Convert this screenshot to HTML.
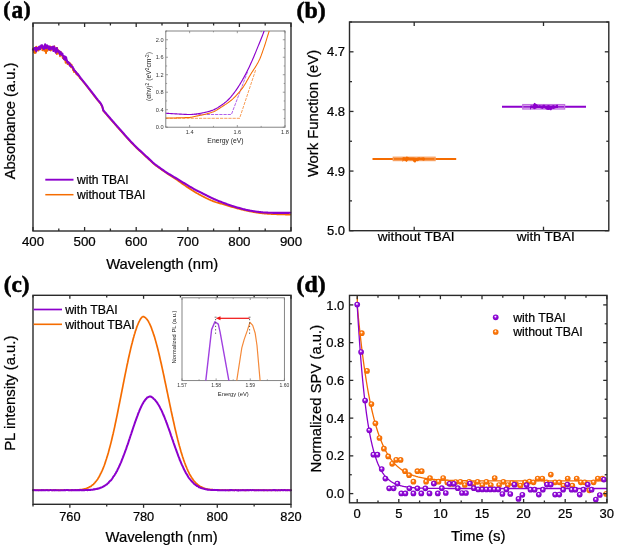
<!DOCTYPE html>
<html><head><meta charset="utf-8"><style>
html,body{margin:0;padding:0;background:#fff;}
svg{display:block;}
svg{will-change:transform;}

</style></head><body>
<svg width="617" height="549" viewBox="0 0 617 549">
<rect width="617" height="549" fill="#fff"/>
<path d="M33.00,48.58 L33.47,49.62 L33.93,52.24 L34.40,49.17 L34.86,53.13 L35.33,47.65 L35.79,52.95 L36.26,46.50 L36.73,47.43 L37.19,48.55 L37.66,50.35 L38.12,48.01 L38.59,50.57 L39.06,48.39 L39.52,48.48 L39.99,48.84 L40.45,48.24 L40.92,48.11 L41.38,46.33 L41.85,46.85 L42.32,50.37 L42.78,49.57 L43.25,49.15 L43.71,48.59 L44.18,50.90 L44.64,50.41 L45.11,48.28 L45.58,51.55 L46.04,53.30 L46.51,50.16 L46.97,47.29 L47.44,50.93 L47.90,48.67 L48.37,49.46 L48.84,48.06 L49.30,48.63 L49.77,50.25 L50.23,46.40 L50.70,50.65 L51.17,47.10 L51.63,49.85 L52.10,46.74 L52.56,46.99 L53.03,49.36 L53.49,49.37 L53.96,48.61 L54.43,46.22 L54.89,49.17 L55.36,52.10 L55.82,49.15 L56.29,49.59 L56.75,54.12 L57.22,47.74 L57.69,51.64 L58.15,53.67 L58.62,50.37 L59.08,52.00 L59.55,51.69 L60.01,56.38 L60.48,53.90 L60.95,52.04 L61.41,54.70 L61.88,54.51 L62.34,56.56 L62.81,58.14 L63.28,58.23 L63.74,58.90 L64.21,57.63 L64.67,59.77 L65.14,59.28 L65.60,62.82 L66.07,58.71 L66.54,60.89 L67.00,60.78 L67.47,64.23 L67.93,62.11 L68.40,63.17 L68.86,64.37 L69.33,62.77 L69.80,63.90 L70.26,63.41 L70.73,66.84 L71.19,67.37 L71.66,64.68 L72.12,67.26 L72.59,68.14 L73.06,70.41 L73.52,69.02 L73.99,72.10 L74.45,70.25 L74.92,71.60 L75.39,72.14 L75.85,72.80 L76.32,74.13 L76.78,73.06 L77.25,74.98 L77.71,74.06 L78.18,75.65 L78.65,76.31 L79.11,76.50 L79.58,77.68 L80.04,78.31 L80.51,78.42 L80.97,78.93 L81.44,79.67 L81.91,80.19 L82.37,80.76 L82.84,81.33 L83.30,81.91 L83.77,82.49 L84.23,83.07 L84.70,83.65 L85.17,84.24 L85.63,84.82 L86.10,85.41 L86.56,86.00 L87.03,86.59 L87.50,87.19 L87.96,87.78 L88.43,88.38 L88.89,88.98 L89.36,89.58 L89.82,90.18 L90.29,90.78 L90.76,91.39 L91.22,91.99 L91.69,92.60 L92.15,93.20 L92.62,93.81 L93.08,94.41 L93.55,95.02 L94.02,95.62 L94.48,96.23 L94.95,96.84 L95.41,97.44 L95.88,98.05 L96.34,98.65 L96.81,99.25 L97.28,99.85 L97.74,100.42 L98.21,100.96 L98.67,101.50 L99.14,102.04 L99.61,102.61 L100.07,103.20 L100.54,103.84 L101.00,104.54 L101.47,105.32 L101.93,106.30 L102.40,107.40 L103.30,110.90 L104.08,111.81 L104.86,112.72 L105.65,113.63 L106.43,114.53 L107.21,115.44 L107.99,116.34 L108.78,117.24 L109.56,118.14 L110.34,119.04 L111.12,119.94 L111.91,120.84 L112.69,121.73 L113.47,122.63 L114.25,123.52 L115.04,124.42 L115.82,125.31 L116.60,126.20 L117.38,127.09 L118.17,127.97 L118.95,128.86 L119.73,129.74 L120.51,130.62 L121.30,131.49 L122.08,132.38 L122.86,133.26 L123.64,134.15 L124.43,135.03 L125.21,135.92 L125.99,136.80 L126.77,137.68 L127.56,138.55 L128.34,139.42 L129.12,140.28 L129.90,141.13 L130.68,141.97 L131.47,142.80 L132.25,143.62 L133.03,144.43 L133.81,145.22 L134.60,146.00 L135.38,146.77 L136.16,147.54 L136.94,148.29 L137.73,149.04 L138.51,149.77 L139.29,150.51 L140.07,151.24 L140.86,151.96 L141.64,152.68 L142.42,153.40 L143.20,154.12 L143.99,154.84 L144.77,155.56 L145.55,156.28 L146.33,157.01 L147.12,157.74 L147.90,158.48 L148.68,159.23 L149.46,159.97 L150.25,160.70 L151.03,161.43 L151.81,162.15 L152.59,162.86 L153.38,163.54 L154.16,164.21 L154.94,164.85 L155.72,165.46 L156.51,166.05 L157.29,166.61 L158.07,167.17 L158.85,167.72 L159.63,168.28 L160.42,168.84 L161.20,169.40 L161.98,169.95 L162.76,170.50 L163.55,171.04 L164.33,171.59 L165.11,172.12 L165.89,172.66 L166.68,173.19 L167.46,173.71 L168.24,174.22 L169.02,174.73 L169.81,175.23 L170.59,175.73 L171.37,176.23 L172.15,176.73 L172.94,177.24 L173.72,177.75 L174.50,178.27 L175.28,178.79 L176.07,179.33 L176.85,179.87 L177.63,180.42 L178.41,180.97 L179.20,181.53 L179.98,182.09 L180.76,182.65 L181.54,183.20 L182.33,183.76 L183.11,184.31 L183.89,184.85 L184.67,185.38 L185.45,185.91 L186.24,186.44 L187.02,186.97 L187.80,187.50 L188.58,188.02 L189.37,188.55 L190.15,189.06 L190.93,189.57 L191.71,190.08 L192.50,190.57 L193.28,191.06 L194.06,191.54 L194.84,192.00 L195.63,192.46 L196.41,192.92 L197.19,193.37 L197.97,193.81 L198.76,194.24 L199.54,194.67 L200.32,195.10 L201.10,195.51 L201.89,195.92 L202.67,196.33 L203.45,196.73 L204.23,197.12 L205.02,197.50 L205.80,197.89 L206.58,198.28 L207.36,198.66 L208.15,199.04 L208.93,199.41 L209.71,199.77 L210.49,200.12 L211.27,200.46 L212.06,200.79 L212.84,201.10 L213.62,201.40 L214.40,201.68 L215.19,201.94 L215.97,202.20 L216.75,202.44 L217.53,202.67 L218.32,202.90 L219.10,203.12 L219.88,203.34 L220.66,203.56 L221.45,203.78 L222.23,204.00 L223.01,204.23 L223.79,204.46 L224.58,204.69 L225.36,204.93 L226.14,205.17 L226.92,205.41 L227.71,205.65 L228.49,205.90 L229.27,206.14 L230.05,206.37 L230.84,206.61 L231.62,206.84 L232.40,207.07 L233.18,207.30 L233.97,207.52 L234.75,207.73 L235.53,207.94 L236.31,208.15 L237.09,208.36 L237.88,208.57 L238.66,208.77 L239.44,208.98 L240.22,209.18 L241.01,209.38 L241.79,209.58 L242.57,209.77 L243.35,209.97 L244.14,210.15 L244.92,210.34 L245.70,210.52 L246.48,210.69 L247.27,210.86 L248.05,211.02 L248.83,211.18 L249.61,211.33 L250.40,211.47 L251.18,211.62 L251.96,211.76 L252.74,211.90 L253.53,212.04 L254.31,212.18 L255.09,212.31 L255.87,212.44 L256.66,212.57 L257.44,212.69 L258.22,212.81 L259.00,212.93 L259.79,213.04 L260.57,213.15 L261.35,213.24 L262.13,213.34 L262.92,213.42 L263.70,213.50 L264.48,213.57 L265.26,213.64 L266.04,213.70 L266.83,213.76 L267.61,213.81 L268.39,213.87 L269.17,213.92 L269.96,213.97 L270.74,214.02 L271.52,214.06 L272.30,214.10 L273.09,214.14 L273.87,214.18 L274.65,214.21 L275.43,214.24 L276.22,214.27 L277.00,214.30 L277.78,214.33 L278.56,214.35 L279.35,214.38 L280.13,214.40 L280.91,214.42 L281.69,214.45 L282.48,214.47 L283.26,214.49 L284.04,214.51 L284.82,214.52 L285.61,214.54 L286.39,214.56 L287.17,214.57 L287.95,214.58 L288.74,214.59 L289.52,214.60 L290.30,214.60" fill="none" stroke="#f56c00" stroke-width="1.7" stroke-linejoin="round" stroke-linecap="round" />
<path d="M33.00,49.50 L33.47,49.97 L33.93,49.04 L34.40,48.03 L34.86,48.70 L35.33,47.80 L35.79,49.41 L36.26,51.34 L36.73,48.26 L37.19,47.88 L37.66,49.48 L38.12,49.11 L38.59,48.56 L39.06,46.79 L39.52,48.16 L39.99,49.31 L40.45,46.07 L40.92,47.53 L41.38,45.27 L41.85,46.30 L42.32,45.47 L42.78,48.08 L43.25,46.46 L43.71,48.93 L44.18,48.73 L44.64,48.11 L45.11,44.29 L45.58,47.34 L46.04,48.00 L46.51,48.14 L46.97,45.40 L47.44,47.00 L47.90,46.14 L48.37,46.41 L48.84,49.45 L49.30,46.54 L49.77,47.89 L50.23,49.49 L50.70,47.28 L51.17,48.16 L51.63,48.63 L52.10,48.66 L52.56,46.70 L53.03,48.89 L53.49,51.05 L53.96,46.51 L54.43,50.49 L54.89,49.43 L55.36,48.35 L55.82,52.74 L56.29,50.93 L56.75,47.99 L57.22,50.25 L57.69,51.31 L58.15,50.36 L58.62,52.06 L59.08,51.20 L59.55,52.78 L60.01,54.52 L60.48,51.73 L60.95,53.78 L61.41,53.38 L61.88,54.99 L62.34,53.54 L62.81,55.08 L63.28,56.23 L63.74,58.38 L64.21,59.23 L64.67,56.30 L65.14,57.59 L65.60,60.04 L66.07,57.18 L66.54,59.67 L67.00,60.67 L67.47,62.79 L67.93,62.65 L68.40,62.07 L68.86,62.60 L69.33,63.30 L69.80,65.60 L70.26,64.28 L70.73,64.99 L71.19,66.15 L71.66,66.33 L72.12,66.87 L72.59,66.79 L73.06,68.22 L73.52,68.54 L73.99,70.20 L74.45,70.46 L74.92,70.66 L75.39,71.64 L75.85,71.74 L76.32,72.99 L76.78,73.12 L77.25,73.94 L77.71,73.88 L78.18,75.02 L78.65,75.05 L79.11,75.62 L79.58,76.61 L80.04,77.12 L80.51,77.86 L80.97,78.60 L81.44,78.96 L81.91,79.57 L82.37,80.16 L82.84,80.73 L83.30,81.31 L83.77,81.89 L84.23,82.47 L84.70,83.05 L85.17,83.64 L85.63,84.22 L86.10,84.81 L86.56,85.40 L87.03,85.99 L87.50,86.59 L87.96,87.18 L88.43,87.78 L88.89,88.38 L89.36,88.98 L89.82,89.58 L90.29,90.18 L90.76,90.79 L91.22,91.39 L91.69,92.00 L92.15,92.60 L92.62,93.21 L93.08,93.81 L93.55,94.42 L94.02,95.02 L94.48,95.63 L94.95,96.24 L95.41,96.84 L95.88,97.45 L96.34,98.05 L96.81,98.65 L97.28,99.25 L97.74,99.82 L98.21,100.36 L98.67,100.90 L99.14,101.44 L99.61,102.01 L100.07,102.60 L100.54,103.24 L101.00,103.94 L101.47,104.72 L101.93,105.70 L102.40,106.80 L103.30,110.30 L104.08,111.21 L104.86,112.12 L105.65,113.03 L106.43,113.93 L107.21,114.84 L107.99,115.74 L108.78,116.64 L109.56,117.54 L110.34,118.44 L111.12,119.34 L111.91,120.24 L112.69,121.13 L113.47,122.03 L114.25,122.92 L115.04,123.82 L115.82,124.71 L116.60,125.60 L117.38,126.49 L118.17,127.37 L118.95,128.26 L119.73,129.14 L120.51,130.02 L121.30,130.89 L122.08,131.78 L122.86,132.66 L123.64,133.55 L124.43,134.43 L125.21,135.32 L125.99,136.20 L126.77,137.08 L127.56,137.95 L128.34,138.82 L129.12,139.68 L129.90,140.53 L130.68,141.37 L131.47,142.20 L132.25,143.02 L133.03,143.83 L133.81,144.62 L134.60,145.40 L135.38,146.17 L136.16,146.94 L136.94,147.69 L137.73,148.44 L138.51,149.17 L139.29,149.91 L140.07,150.64 L140.86,151.36 L141.64,152.08 L142.42,152.80 L143.20,153.52 L143.99,154.24 L144.77,154.96 L145.55,155.68 L146.33,156.41 L147.12,157.14 L147.90,157.88 L148.68,158.63 L149.46,159.37 L150.25,160.10 L151.03,160.83 L151.81,161.55 L152.59,162.26 L153.38,162.94 L154.16,163.61 L154.94,164.25 L155.72,164.86 L156.51,165.45 L157.29,166.01 L158.07,166.57 L158.85,167.12 L159.63,167.68 L160.42,168.25 L161.20,168.81 L161.98,169.37 L162.76,169.92 L163.55,170.47 L164.33,171.01 L165.11,171.55 L165.89,172.07 L166.68,172.58 L167.46,173.08 L168.24,173.56 L169.02,174.04 L169.81,174.51 L170.59,174.98 L171.37,175.44 L172.15,175.90 L172.94,176.37 L173.72,176.83 L174.50,177.30 L175.28,177.77 L176.07,178.25 L176.85,178.72 L177.63,179.20 L178.41,179.68 L179.20,180.16 L179.98,180.64 L180.76,181.11 L181.54,181.59 L182.33,182.07 L183.11,182.54 L183.89,183.01 L184.67,183.48 L185.45,183.95 L186.24,184.43 L187.02,184.90 L187.80,185.38 L188.58,185.85 L189.37,186.33 L190.15,186.80 L190.93,187.26 L191.71,187.72 L192.50,188.18 L193.28,188.62 L194.06,189.06 L194.84,189.49 L195.63,189.90 L196.41,190.31 L197.19,190.72 L197.97,191.12 L198.76,191.51 L199.54,191.90 L200.32,192.28 L201.10,192.67 L201.89,193.05 L202.67,193.44 L203.45,193.83 L204.23,194.22 L205.02,194.61 L205.80,195.01 L206.58,195.41 L207.36,195.81 L208.15,196.21 L208.93,196.61 L209.71,197.00 L210.49,197.39 L211.27,197.78 L212.06,198.15 L212.84,198.52 L213.62,198.88 L214.40,199.22 L215.19,199.56 L215.97,199.90 L216.75,200.22 L217.53,200.55 L218.32,200.86 L219.10,201.18 L219.88,201.49 L220.66,201.79 L221.45,202.09 L222.23,202.39 L223.01,202.68 L223.79,202.97 L224.58,203.26 L225.36,203.55 L226.14,203.83 L226.92,204.12 L227.71,204.40 L228.49,204.68 L229.27,204.95 L230.05,205.22 L230.84,205.48 L231.62,205.75 L232.40,206.00 L233.18,206.25 L233.97,206.49 L234.75,206.73 L235.53,206.96 L236.31,207.18 L237.09,207.41 L237.88,207.64 L238.66,207.87 L239.44,208.09 L240.22,208.31 L241.01,208.53 L241.79,208.74 L242.57,208.95 L243.35,209.15 L244.14,209.35 L244.92,209.54 L245.70,209.73 L246.48,209.91 L247.27,210.08 L248.05,210.24 L248.83,210.39 L249.61,210.53 L250.40,210.67 L251.18,210.80 L251.96,210.93 L252.74,211.06 L253.53,211.19 L254.31,211.31 L255.09,211.43 L255.87,211.55 L256.66,211.67 L257.44,211.78 L258.22,211.88 L259.00,211.98 L259.79,212.07 L260.57,212.16 L261.35,212.24 L262.13,212.31 L262.92,212.38 L263.70,212.43 L264.48,212.48 L265.26,212.52 L266.04,212.56 L266.83,212.60 L267.61,212.64 L268.39,212.68 L269.17,212.71 L269.96,212.74 L270.74,212.77 L271.52,212.80 L272.30,212.82 L273.09,212.85 L273.87,212.87 L274.65,212.88 L275.43,212.89 L276.22,212.90 L277.00,212.90 L277.78,212.90 L278.56,212.90 L279.35,212.90 L280.13,212.90 L280.91,212.90 L281.69,212.90 L282.48,212.89 L283.26,212.89 L284.04,212.89 L284.82,212.88 L285.61,212.87 L286.39,212.86 L287.17,212.86 L287.95,212.84 L288.74,212.83 L289.52,212.82 L290.30,212.80" fill="none" stroke="#8c00cc" stroke-width="2.1" stroke-linejoin="round" stroke-linecap="round" />
<rect x="33" y="23.0" width="258" height="208.0" fill="none" stroke="#2a2a2a" stroke-width="1.4"/>
<line x1="33.0" y1="231" x2="33.0" y2="227" stroke="#2a2a2a" stroke-width="1.3" />
<line x1="33.0" y1="23.0" x2="33.0" y2="27.0" stroke="#2a2a2a" stroke-width="1.3" />
<line x1="58.8" y1="231" x2="58.8" y2="228.5" stroke="#2a2a2a" stroke-width="1.3" />
<line x1="58.8" y1="23.0" x2="58.8" y2="25.5" stroke="#2a2a2a" stroke-width="1.3" />
<line x1="84.6" y1="231" x2="84.6" y2="227" stroke="#2a2a2a" stroke-width="1.3" />
<line x1="84.6" y1="23.0" x2="84.6" y2="27.0" stroke="#2a2a2a" stroke-width="1.3" />
<line x1="110.4" y1="231" x2="110.4" y2="228.5" stroke="#2a2a2a" stroke-width="1.3" />
<line x1="110.4" y1="23.0" x2="110.4" y2="25.5" stroke="#2a2a2a" stroke-width="1.3" />
<line x1="136.2" y1="231" x2="136.2" y2="227" stroke="#2a2a2a" stroke-width="1.3" />
<line x1="136.2" y1="23.0" x2="136.2" y2="27.0" stroke="#2a2a2a" stroke-width="1.3" />
<line x1="162.0" y1="231" x2="162.0" y2="228.5" stroke="#2a2a2a" stroke-width="1.3" />
<line x1="162.0" y1="23.0" x2="162.0" y2="25.5" stroke="#2a2a2a" stroke-width="1.3" />
<line x1="187.8" y1="231" x2="187.8" y2="227" stroke="#2a2a2a" stroke-width="1.3" />
<line x1="187.8" y1="23.0" x2="187.8" y2="27.0" stroke="#2a2a2a" stroke-width="1.3" />
<line x1="213.6" y1="231" x2="213.6" y2="228.5" stroke="#2a2a2a" stroke-width="1.3" />
<line x1="213.6" y1="23.0" x2="213.6" y2="25.5" stroke="#2a2a2a" stroke-width="1.3" />
<line x1="239.4" y1="231" x2="239.4" y2="227" stroke="#2a2a2a" stroke-width="1.3" />
<line x1="239.4" y1="23.0" x2="239.4" y2="27.0" stroke="#2a2a2a" stroke-width="1.3" />
<line x1="265.2" y1="231" x2="265.2" y2="228.5" stroke="#2a2a2a" stroke-width="1.3" />
<line x1="265.2" y1="23.0" x2="265.2" y2="25.5" stroke="#2a2a2a" stroke-width="1.3" />
<line x1="291.0" y1="231" x2="291.0" y2="227" stroke="#2a2a2a" stroke-width="1.3" />
<line x1="291.0" y1="23.0" x2="291.0" y2="27.0" stroke="#2a2a2a" stroke-width="1.3" />
<text x="33.0" y="245.8" font-family="Liberation Sans" font-size="13.3" font-weight="normal" text-anchor="middle" fill="#000" stroke="#000" stroke-width="0.22">400</text>
<text x="84.6" y="245.8" font-family="Liberation Sans" font-size="13.3" font-weight="normal" text-anchor="middle" fill="#000" stroke="#000" stroke-width="0.22">500</text>
<text x="136.2" y="245.8" font-family="Liberation Sans" font-size="13.3" font-weight="normal" text-anchor="middle" fill="#000" stroke="#000" stroke-width="0.22">600</text>
<text x="187.8" y="245.8" font-family="Liberation Sans" font-size="13.3" font-weight="normal" text-anchor="middle" fill="#000" stroke="#000" stroke-width="0.22">700</text>
<text x="239.4" y="245.8" font-family="Liberation Sans" font-size="13.3" font-weight="normal" text-anchor="middle" fill="#000" stroke="#000" stroke-width="0.22">800</text>
<text x="291.0" y="245.8" font-family="Liberation Sans" font-size="13.3" font-weight="normal" text-anchor="middle" fill="#000" stroke="#000" stroke-width="0.22">900</text>
<text x="162.2" y="269" font-family="Liberation Sans" font-size="14.8" font-weight="normal" text-anchor="middle" fill="#000" stroke="#000" stroke-width="0.22">Wavelength (nm)</text>
<text x="15.2" y="121" font-family="Liberation Sans" font-size="14.7" font-weight="normal" text-anchor="middle" fill="#000" transform="rotate(-90 15.2 121)" stroke="#000" stroke-width="0.22">Absorbance (a.u.)</text>
<text x="3.2" y="15.8" font-family="Liberation Serif" font-size="21.5" font-weight="bold" text-anchor="start" fill="#000" stroke="#000" stroke-width="0.55">(</text>
<text x="0" y="0" font-family="Liberation Serif" font-size="24" font-weight="bold" fill="#000" stroke="#000" stroke-width="0.55" transform="translate(11.6 17.9) scale(0.97 1.03)">a</text>
<text x="23.4" y="15.8" font-family="Liberation Serif" font-size="21.5" font-weight="bold" text-anchor="start" fill="#000" stroke="#000" stroke-width="0.55">)</text>
<line x1="45.3" y1="179.7" x2="73.5" y2="179.7" stroke="#8c00cc" stroke-width="1.9" />
<line x1="45.3" y1="194.7" x2="73.5" y2="194.7" stroke="#f56c00" stroke-width="1.5" />
<text x="77" y="183.7" font-family="Liberation Sans" font-size="12.1" font-weight="normal" text-anchor="start" fill="#000" stroke="#000" stroke-width="0.22">with TBAI</text>
<text x="77" y="198.5" font-family="Liberation Sans" font-size="12.1" font-weight="normal" text-anchor="start" fill="#000" stroke="#000" stroke-width="0.22">without TBAI</text>
<rect x="165.8" y="31" width="119.19999999999999" height="96.2" fill="#fff" stroke="#777" stroke-width="0.9"/>
<clipPath id="ca"><rect x="165.8" y="31" width="119.19999999999999" height="96.2"/></clipPath>
<g clip-path="url(#ca)">
<path d="M165.80,118.30 L239.60,118.30 L255.80,69.50" fill="none" stroke="#f7954a" stroke-width="0.9" stroke-linejoin="round" stroke-linecap="round" stroke-dasharray="2.4,1.8"/>
<path d="M190.30,114.50 L231.40,114.50 L247.80,71.20" fill="none" stroke="#a850e8" stroke-width="0.9" stroke-linejoin="round" stroke-linecap="round" stroke-dasharray="2.4,1.8"/>
<path d="M165.80,118.00 L166.33,118.00 L166.86,118.00 L167.39,118.00 L167.92,118.00 L168.45,117.99 L168.98,117.99 L169.51,117.99 L170.04,117.98 L170.57,117.98 L171.10,117.97 L171.63,117.97 L172.16,117.96 L172.69,117.96 L173.22,117.95 L173.74,117.94 L174.27,117.93 L174.80,117.92 L175.33,117.92 L175.86,117.91 L176.39,117.89 L176.92,117.88 L177.45,117.87 L177.98,117.86 L178.51,117.85 L179.04,117.83 L179.57,117.82 L180.10,117.80 L180.63,117.79 L181.16,117.77 L181.69,117.75 L182.22,117.74 L182.75,117.72 L183.28,117.70 L183.81,117.68 L184.34,117.66 L184.87,117.64 L185.40,117.62 L185.93,117.60 L186.46,117.57 L186.99,117.55 L187.52,117.52 L188.05,117.50 L188.57,117.47 L189.10,117.45 L189.63,117.42 L190.16,117.39 L190.69,117.34 L191.22,117.26 L191.75,117.16 L192.28,117.04 L192.81,116.92 L193.34,116.79 L193.87,116.66 L194.40,116.53 L194.93,116.41 L195.46,116.31 L195.99,116.20 L196.52,116.09 L197.05,115.99 L197.58,115.89 L198.11,115.78 L198.64,115.68 L199.17,115.57 L199.70,115.47 L200.23,115.36 L200.76,115.25 L201.29,115.14 L201.82,115.03 L202.35,114.92 L202.88,114.80 L203.41,114.68 L203.93,114.56 L204.46,114.43 L204.99,114.30 L205.52,114.17 L206.05,114.03 L206.58,113.90 L207.11,113.76 L207.64,113.61 L208.17,113.47 L208.70,113.32 L209.23,113.16 L209.76,113.00 L210.29,112.84 L210.82,112.66 L211.35,112.49 L211.88,112.30 L212.41,112.11 L212.94,111.90 L213.47,111.69 L214.00,111.46 L214.53,111.21 L215.06,110.95 L215.59,110.68 L216.12,110.39 L216.65,110.08 L217.18,109.77 L217.71,109.45 L218.24,109.12 L218.76,108.79 L219.29,108.45 L219.82,108.11 L220.35,107.76 L220.88,107.42 L221.41,107.07 L221.94,106.73 L222.47,106.39 L223.00,106.05 L223.53,105.71 L224.06,105.37 L224.59,105.03 L225.12,104.68 L225.65,104.34 L226.18,103.98 L226.71,103.63 L227.24,103.26 L227.77,102.90 L228.30,102.52 L228.83,102.14 L229.36,101.75 L229.89,101.35 L230.42,100.94 L230.95,100.52 L231.48,100.09 L232.01,99.65 L232.54,99.20 L233.07,98.72 L233.59,98.22 L234.12,97.70 L234.65,97.16 L235.18,96.61 L235.71,96.05 L236.24,95.47 L236.77,94.88 L237.30,94.29 L237.83,93.69 L238.36,93.09 L238.89,92.48 L239.42,91.86 L239.95,91.23 L240.48,90.59 L241.01,89.93 L241.54,89.25 L242.07,88.56 L242.60,87.84 L243.13,87.10 L243.66,86.33 L244.19,85.52 L244.72,84.68 L245.25,83.80 L245.78,82.90 L246.31,81.99 L246.84,81.05 L247.37,80.11 L247.90,79.16 L248.43,78.22 L248.95,77.28 L249.48,76.34 L250.01,75.43 L250.54,74.53 L251.07,73.65 L251.60,72.81 L252.13,71.98 L252.66,71.16 L253.19,70.36 L253.72,69.55 L254.25,68.75 L254.78,67.94 L255.31,67.12 L255.84,66.28 L256.37,65.41 L256.90,64.52 L257.43,63.60 L257.96,62.64 L258.49,61.63 L259.02,60.58 L259.55,59.47 L260.08,58.26 L260.61,56.97 L261.14,55.60 L261.67,54.17 L262.20,52.70 L262.73,51.19 L263.26,49.66 L263.78,48.12 L264.31,46.58 L264.84,44.98 L265.37,43.33 L265.90,41.64 L266.43,39.93 L266.96,38.20 L267.49,36.47 L268.02,34.74 L268.55,33.04 L269.08,31.38 L269.61,29.75 L270.14,28.15 L270.67,26.57 L271.20,25.00" fill="none" stroke="#f56c00" stroke-width="1.05" stroke-linejoin="round" stroke-linecap="round" />
<path d="M165.80,113.20 L166.30,113.24 L166.81,113.28 L167.31,113.32 L167.81,113.35 L168.32,113.39 L168.82,113.43 L169.32,113.46 L169.83,113.50 L170.33,113.53 L170.84,113.57 L171.34,113.60 L171.84,113.64 L172.35,113.67 L172.85,113.70 L173.35,113.73 L173.86,113.77 L174.36,113.80 L174.86,113.83 L175.37,113.86 L175.87,113.89 L176.37,113.91 L176.88,113.94 L177.38,113.97 L177.88,113.99 L178.39,114.02 L178.89,114.05 L179.39,114.07 L179.90,114.10 L180.40,114.13 L180.91,114.16 L181.41,114.19 L181.91,114.22 L182.42,114.24 L182.92,114.27 L183.42,114.30 L183.93,114.32 L184.43,114.35 L184.93,114.37 L185.44,114.39 L185.94,114.41 L186.44,114.43 L186.95,114.45 L187.45,114.46 L187.95,114.48 L188.46,114.49 L188.96,114.49 L189.47,114.50 L189.97,114.50 L190.47,114.49 L190.98,114.48 L191.48,114.45 L191.98,114.41 L192.49,114.37 L192.99,114.32 L193.49,114.26 L194.00,114.21 L194.50,114.15 L195.00,114.10 L195.51,114.04 L196.01,113.99 L196.51,113.92 L197.02,113.86 L197.52,113.79 L198.03,113.71 L198.53,113.63 L199.03,113.55 L199.54,113.47 L200.04,113.38 L200.54,113.29 L201.05,113.20 L201.55,113.11 L202.05,113.01 L202.56,112.91 L203.06,112.81 L203.56,112.71 L204.07,112.60 L204.57,112.49 L205.07,112.38 L205.58,112.27 L206.08,112.16 L206.58,112.04 L207.09,111.92 L207.59,111.79 L208.10,111.66 L208.60,111.52 L209.10,111.38 L209.61,111.23 L210.11,111.08 L210.61,110.92 L211.12,110.75 L211.62,110.58 L212.12,110.40 L212.63,110.22 L213.13,110.03 L213.63,109.82 L214.14,109.61 L214.64,109.37 L215.14,109.12 L215.65,108.86 L216.15,108.59 L216.66,108.31 L217.16,108.01 L217.66,107.70 L218.17,107.39 L218.67,107.07 L219.17,106.74 L219.68,106.40 L220.18,106.06 L220.68,105.72 L221.19,105.37 L221.69,105.02 L222.19,104.67 L222.70,104.32 L223.20,103.96 L223.70,103.59 L224.21,103.21 L224.71,102.81 L225.22,102.41 L225.72,102.00 L226.22,101.57 L226.73,101.14 L227.23,100.69 L227.73,100.23 L228.24,99.75 L228.74,99.26 L229.24,98.75 L229.75,98.21 L230.25,97.65 L230.75,97.07 L231.26,96.48 L231.76,95.86 L232.26,95.23 L232.77,94.60 L233.27,93.95 L233.77,93.29 L234.28,92.63 L234.78,91.96 L235.29,91.27 L235.79,90.56 L236.29,89.85 L236.80,89.11 L237.30,88.37 L237.80,87.61 L238.31,86.84 L238.81,86.05 L239.31,85.26 L239.82,84.45 L240.32,83.63 L240.82,82.79 L241.33,81.94 L241.83,81.08 L242.33,80.20 L242.84,79.31 L243.34,78.40 L243.85,77.49 L244.35,76.56 L244.85,75.62 L245.36,74.67 L245.86,73.71 L246.36,72.74 L246.87,71.77 L247.37,70.77 L247.87,69.76 L248.38,68.73 L248.88,67.69 L249.38,66.63 L249.89,65.55 L250.39,64.46 L250.89,63.36 L251.40,62.25 L251.90,61.12 L252.41,59.99 L252.91,58.84 L253.41,57.67 L253.92,56.49 L254.42,55.29 L254.92,54.07 L255.43,52.85 L255.93,51.62 L256.43,50.38 L256.94,49.13 L257.44,47.89 L257.94,46.64 L258.45,45.40 L258.95,44.17 L259.45,42.94 L259.96,41.72 L260.46,40.49 L260.96,39.25 L261.47,37.99 L261.97,36.72 L262.48,35.42 L262.98,34.09 L263.48,32.72 L263.99,31.31 L264.49,29.85 L264.99,28.29 L265.50,26.66 L266.00,25.00" fill="none" stroke="#8c00cc" stroke-width="1.15" stroke-linejoin="round" stroke-linecap="round" />
</g>
<line x1="165.8" y1="127.2" x2="168.0" y2="127.2" stroke="#777" stroke-width="0.7" />
<line x1="285.0" y1="127.2" x2="282.8" y2="127.2" stroke="#777" stroke-width="0.7" />
<line x1="165.8" y1="118.45454545454545" x2="167.10000000000002" y2="118.45454545454545" stroke="#777" stroke-width="0.7" />
<line x1="285.0" y1="118.45454545454545" x2="283.7" y2="118.45454545454545" stroke="#777" stroke-width="0.7" />
<line x1="165.8" y1="109.70909090909092" x2="168.0" y2="109.70909090909092" stroke="#777" stroke-width="0.7" />
<line x1="285.0" y1="109.70909090909092" x2="282.8" y2="109.70909090909092" stroke="#777" stroke-width="0.7" />
<line x1="165.8" y1="100.96363636363637" x2="167.10000000000002" y2="100.96363636363637" stroke="#777" stroke-width="0.7" />
<line x1="285.0" y1="100.96363636363637" x2="283.7" y2="100.96363636363637" stroke="#777" stroke-width="0.7" />
<line x1="165.8" y1="92.21818181818182" x2="168.0" y2="92.21818181818182" stroke="#777" stroke-width="0.7" />
<line x1="285.0" y1="92.21818181818182" x2="282.8" y2="92.21818181818182" stroke="#777" stroke-width="0.7" />
<line x1="165.8" y1="83.47272727272727" x2="167.10000000000002" y2="83.47272727272727" stroke="#777" stroke-width="0.7" />
<line x1="285.0" y1="83.47272727272727" x2="283.7" y2="83.47272727272727" stroke="#777" stroke-width="0.7" />
<line x1="165.8" y1="74.72727272727272" x2="168.0" y2="74.72727272727272" stroke="#777" stroke-width="0.7" />
<line x1="285.0" y1="74.72727272727272" x2="282.8" y2="74.72727272727272" stroke="#777" stroke-width="0.7" />
<line x1="165.8" y1="65.98181818181818" x2="167.10000000000002" y2="65.98181818181818" stroke="#777" stroke-width="0.7" />
<line x1="285.0" y1="65.98181818181818" x2="283.7" y2="65.98181818181818" stroke="#777" stroke-width="0.7" />
<line x1="165.8" y1="57.236363636363635" x2="168.0" y2="57.236363636363635" stroke="#777" stroke-width="0.7" />
<line x1="285.0" y1="57.236363636363635" x2="282.8" y2="57.236363636363635" stroke="#777" stroke-width="0.7" />
<line x1="165.8" y1="48.4909090909091" x2="167.10000000000002" y2="48.4909090909091" stroke="#777" stroke-width="0.7" />
<line x1="285.0" y1="48.4909090909091" x2="283.7" y2="48.4909090909091" stroke="#777" stroke-width="0.7" />
<line x1="165.8" y1="39.74545454545455" x2="168.0" y2="39.74545454545455" stroke="#777" stroke-width="0.7" />
<line x1="285.0" y1="39.74545454545455" x2="282.8" y2="39.74545454545455" stroke="#777" stroke-width="0.7" />
<line x1="165.8" y1="31.0" x2="167.10000000000002" y2="31.0" stroke="#777" stroke-width="0.7" />
<line x1="285.0" y1="31.0" x2="283.7" y2="31.0" stroke="#777" stroke-width="0.7" />
<text x="163.5" y="129.2" font-family="Liberation Sans" font-size="5.6" font-weight="normal" text-anchor="end" fill="#333" >0.0</text>
<text x="163.5" y="111.70909090909092" font-family="Liberation Sans" font-size="5.6" font-weight="normal" text-anchor="end" fill="#333" >0.4</text>
<text x="163.5" y="94.21818181818182" font-family="Liberation Sans" font-size="5.6" font-weight="normal" text-anchor="end" fill="#333" >0.8</text>
<text x="163.5" y="76.72727272727272" font-family="Liberation Sans" font-size="5.6" font-weight="normal" text-anchor="end" fill="#333" >1.2</text>
<text x="163.5" y="59.236363636363635" font-family="Liberation Sans" font-size="5.6" font-weight="normal" text-anchor="end" fill="#333" >1.6</text>
<text x="163.5" y="41.74545454545455" font-family="Liberation Sans" font-size="5.6" font-weight="normal" text-anchor="end" fill="#333" >2.0</text>
<line x1="165.8" y1="127.2" x2="165.8" y2="125.9" stroke="#777" stroke-width="0.7" />
<line x1="165.8" y1="31" x2="165.8" y2="32.3" stroke="#777" stroke-width="0.7" />
<line x1="189.64000000000004" y1="127.2" x2="189.64000000000004" y2="125.0" stroke="#777" stroke-width="0.7" />
<line x1="189.64000000000004" y1="31" x2="189.64000000000004" y2="33.2" stroke="#777" stroke-width="0.7" />
<line x1="213.48" y1="127.2" x2="213.48" y2="125.9" stroke="#777" stroke-width="0.7" />
<line x1="213.48" y1="31" x2="213.48" y2="32.3" stroke="#777" stroke-width="0.7" />
<line x1="237.32000000000002" y1="127.2" x2="237.32000000000002" y2="125.0" stroke="#777" stroke-width="0.7" />
<line x1="237.32000000000002" y1="31" x2="237.32000000000002" y2="33.2" stroke="#777" stroke-width="0.7" />
<line x1="261.16" y1="127.2" x2="261.16" y2="125.9" stroke="#777" stroke-width="0.7" />
<line x1="261.16" y1="31" x2="261.16" y2="32.3" stroke="#777" stroke-width="0.7" />
<line x1="285.0" y1="127.2" x2="285.0" y2="125.0" stroke="#777" stroke-width="0.7" />
<line x1="285.0" y1="31" x2="285.0" y2="33.2" stroke="#777" stroke-width="0.7" />
<text x="189.64" y="134" font-family="Liberation Sans" font-size="5.6" font-weight="normal" text-anchor="middle" fill="#333" >1.4</text>
<text x="237.32000000000002" y="134" font-family="Liberation Sans" font-size="5.6" font-weight="normal" text-anchor="middle" fill="#333" >1.6</text>
<text x="285.0" y="134" font-family="Liberation Sans" font-size="5.6" font-weight="normal" text-anchor="middle" fill="#333" >1.8</text>
<text x="225.5" y="142.5" font-family="Liberation Sans" font-size="6.8" font-weight="normal" text-anchor="middle" fill="#222" >Energy (eV)</text>
<text x="151.0" y="76.5" font-family="Liberation Sans" font-size="6.8" font-weight="normal" text-anchor="middle" fill="#222" transform="rotate(-90 151.0 76.5)" >(αhν)<tspan dy="-2.3" font-size="4.8">2</tspan><tspan dy="2.3"> (eV</tspan><tspan dy="-2.3" font-size="4.8">2</tspan><tspan dy="2.3">cm</tspan><tspan dy="-2.3" font-size="4.8">-2</tspan><tspan dy="2.3">)</tspan></text>
<rect x="349.5" y="22" width="259.29999999999995" height="208.7" fill="none" stroke="#2a2a2a" stroke-width="1.4"/>
<line x1="349.5" y1="22.0" x2="352.0" y2="22.0" stroke="#2a2a2a" stroke-width="1.3" />
<line x1="608.8" y1="22.0" x2="606.3" y2="22.0" stroke="#2a2a2a" stroke-width="1.3" />
<line x1="349.5" y1="51.81428571428561" x2="353.5" y2="51.81428571428561" stroke="#2a2a2a" stroke-width="1.3" />
<line x1="608.8" y1="51.81428571428561" x2="604.8" y2="51.81428571428561" stroke="#2a2a2a" stroke-width="1.3" />
<line x1="349.5" y1="81.62857142857122" x2="352.0" y2="81.62857142857122" stroke="#2a2a2a" stroke-width="1.3" />
<line x1="608.8" y1="81.62857142857122" x2="606.3" y2="81.62857142857122" stroke="#2a2a2a" stroke-width="1.3" />
<line x1="349.5" y1="111.44285714285735" x2="353.5" y2="111.44285714285735" stroke="#2a2a2a" stroke-width="1.3" />
<line x1="608.8" y1="111.44285714285735" x2="604.8" y2="111.44285714285735" stroke="#2a2a2a" stroke-width="1.3" />
<line x1="349.5" y1="141.25714285714298" x2="352.0" y2="141.25714285714298" stroke="#2a2a2a" stroke-width="1.3" />
<line x1="608.8" y1="141.25714285714298" x2="606.3" y2="141.25714285714298" stroke="#2a2a2a" stroke-width="1.3" />
<line x1="349.5" y1="171.07142857142858" x2="353.5" y2="171.07142857142858" stroke="#2a2a2a" stroke-width="1.3" />
<line x1="608.8" y1="171.07142857142858" x2="604.8" y2="171.07142857142858" stroke="#2a2a2a" stroke-width="1.3" />
<line x1="349.5" y1="200.8857142857142" x2="352.0" y2="200.8857142857142" stroke="#2a2a2a" stroke-width="1.3" />
<line x1="608.8" y1="200.8857142857142" x2="606.3" y2="200.8857142857142" stroke="#2a2a2a" stroke-width="1.3" />
<line x1="349.5" y1="230.69999999999976" x2="353.5" y2="230.69999999999976" stroke="#2a2a2a" stroke-width="1.3" />
<line x1="608.8" y1="230.69999999999976" x2="604.8" y2="230.69999999999976" stroke="#2a2a2a" stroke-width="1.3" />
<text x="345" y="56.31428571428561" font-family="Liberation Sans" font-size="13" font-weight="normal" text-anchor="end" fill="#000" stroke="#000" stroke-width="0.22">4.7</text>
<text x="345" y="115.94285714285682" font-family="Liberation Sans" font-size="13" font-weight="normal" text-anchor="end" fill="#000" stroke="#000" stroke-width="0.22">4.8</text>
<text x="345" y="175.57142857142858" font-family="Liberation Sans" font-size="13" font-weight="normal" text-anchor="end" fill="#000" stroke="#000" stroke-width="0.22">4.9</text>
<text x="345" y="235.19999999999976" font-family="Liberation Sans" font-size="13" font-weight="normal" text-anchor="end" fill="#000" stroke="#000" stroke-width="0.22">5.0</text>
<line x1="414.2" y1="230.7" x2="414.2" y2="226.7" stroke="#2a2a2a" stroke-width="1.3" />
<line x1="414.2" y1="22" x2="414.2" y2="26" stroke="#2a2a2a" stroke-width="1.3" />
<line x1="543.5" y1="230.7" x2="543.5" y2="226.7" stroke="#2a2a2a" stroke-width="1.3" />
<line x1="543.5" y1="22" x2="543.5" y2="26" stroke="#2a2a2a" stroke-width="1.3" />
<text x="416.2" y="241.3" font-family="Liberation Sans" font-size="13.6" font-weight="normal" text-anchor="middle" fill="#000" stroke="#000" stroke-width="0.22">without TBAI</text>
<text x="545.7" y="241.3" font-family="Liberation Sans" font-size="13.6" font-weight="normal" text-anchor="middle" fill="#000" stroke="#000" stroke-width="0.22">with TBAI</text>
<text x="317.8" y="113.5" font-family="Liberation Sans" font-size="14.8" font-weight="normal" text-anchor="middle" fill="#000" transform="rotate(-90 317.8 113.5)" stroke="#000" stroke-width="0.22">Work Function (eV)</text>
<text x="296.6" y="17.9" font-family="Liberation Serif" font-size="23.9" font-weight="bold" text-anchor="start" fill="#000" stroke="#000" stroke-width="0.55">(b)</text>
<line x1="372.5" y1="158.9" x2="456.2" y2="158.9" stroke="#f56c00" stroke-width="2.0" />
<rect x="393.3" y="157.25" width="41.80000000000001" height="3.3" fill="#f7a060" fill-opacity="0.25" stroke="#f7a060" stroke-width="1.3"/>
<path d="M402.5,157.6 L403.9,157.1 L405.3,157.6 L406.7,156.6 L408.1,157.0 L409.5,157.5 L410.9,157.4 L412.3,157.4 L413.7,157.6 L415.1,157.7 L416.5,158.0 L417.9,157.4 L419.3,157.2 L420.7,157.8 L422.1,157.5 L423.5,157.3 L424.9,158.0 L424.9,160.1 L423.5,160.7 L422.1,160.1 L420.7,159.8 L419.3,160.1 L417.9,161.2 L416.5,160.9 L415.1,162.8 L413.7,161.9 L412.3,160.0 L410.9,160.3 L409.5,160.0 L408.1,160.0 L406.7,162.1 L405.3,161.0 L403.9,160.2 L402.5,162.0Z" fill="#f56c00"/>
<line x1="502" y1="106.8" x2="586" y2="106.8" stroke="#8c00cc" stroke-width="2.0" />
<rect x="522.8" y="104.6" width="41.80000000000007" height="4.4" fill="#c070e0" fill-opacity="0.25" stroke="#c070e0" stroke-width="1.3"/>
<path d="M530.0,105.7 L531.4,105.2 L532.8,105.4 L534.2,102.7 L535.6,103.6 L537.0,104.4 L538.4,105.5 L539.8,104.9 L541.2,105.5 L542.6,105.2 L544.0,104.6 L545.4,105.5 L546.8,105.5 L548.2,104.9 L549.6,105.3 L551.0,105.8 L552.4,105.2 L553.8,105.1 L555.2,105.7 L556.6,104.7 L558.0,104.8 L558.0,107.9 L556.6,108.1 L555.2,108.2 L553.8,109.0 L552.4,108.7 L551.0,110.4 L549.6,109.8 L548.2,109.9 L546.8,109.7 L545.4,108.8 L544.0,107.9 L542.6,109.1 L541.2,108.6 L539.8,108.0 L538.4,108.1 L537.0,107.9 L535.6,108.8 L534.2,109.2 L532.8,108.2 L531.4,108.0 L530.0,110.0Z" fill="#8c00cc"/>
<path d="M33.00,490.20 L33.52,490.34 L34.03,490.32 L34.55,490.15 L35.07,490.17 L35.59,490.15 L36.10,490.26 L36.62,490.19 L37.14,490.27 L37.65,490.02 L38.17,490.36 L38.69,490.19 L39.20,490.27 L39.72,490.19 L40.24,490.16 L40.76,490.25 L41.27,490.28 L41.79,490.18 L42.31,490.18 L42.82,490.27 L43.34,490.11 L43.86,490.05 L44.37,490.24 L44.89,490.13 L45.41,490.01 L45.93,490.12 L46.44,490.15 L46.96,490.08 L47.48,490.05 L47.99,490.20 L48.51,490.29 L49.03,490.18 L49.55,490.13 L50.06,490.24 L50.58,490.27 L51.10,490.17 L51.61,490.25 L52.13,490.30 L52.65,490.18 L53.16,490.12 L53.68,490.23 L54.20,490.22 L54.72,490.31 L55.23,490.07 L55.75,490.13 L56.27,490.12 L56.78,490.03 L57.30,490.21 L57.82,490.25 L58.33,490.13 L58.85,490.34 L59.37,490.28 L59.89,490.26 L60.40,490.24 L60.92,490.29 L61.44,490.06 L61.95,490.26 L62.47,490.26 L62.99,490.02 L63.51,490.23 L64.02,490.17 L64.54,490.27 L65.06,490.15 L65.57,490.19 L66.09,490.22 L66.61,490.10 L67.12,490.24 L67.64,490.17 L68.16,490.22 L68.68,490.12 L69.19,490.28 L69.71,490.22 L70.23,490.14 L70.74,490.21 L71.26,490.27 L71.78,490.31 L72.29,489.97 L72.81,490.20 L73.33,490.15 L73.85,490.08 L74.36,489.97 L74.88,490.18 L75.40,489.90 L75.91,490.06 L76.43,490.11 L76.95,489.79 L77.46,489.89 L77.98,489.75 L78.50,489.87 L79.02,489.95 L79.53,489.95 L80.05,489.52 L80.57,489.58 L81.08,489.64 L81.60,489.66 L82.12,489.46 L82.64,489.26 L83.15,489.26 L83.67,489.12 L84.19,488.99 L84.70,488.81 L85.22,488.78 L85.74,488.62 L86.25,488.42 L86.77,488.22 L87.29,487.92 L87.81,487.79 L88.32,487.73 L88.84,487.34 L89.36,486.95 L89.87,486.94 L90.39,486.55 L90.91,486.38 L91.42,485.81 L91.94,485.38 L92.46,484.87 L92.98,484.71 L93.49,484.36 L94.01,483.52 L94.53,483.01 L95.04,482.57 L95.56,481.82 L96.08,481.24 L96.60,480.56 L97.11,479.90 L97.63,479.23 L98.15,478.33 L98.66,477.58 L99.18,476.56 L99.70,475.71 L100.21,474.48 L100.73,473.53 L101.25,472.68 L101.77,471.42 L102.28,470.36 L102.80,469.14 L103.32,467.94 L103.83,466.56 L104.35,465.20 L104.87,463.65 L105.38,462.11 L105.90,460.56 L106.42,458.99 L106.94,457.27 L107.45,455.63 L107.97,453.92 L108.49,452.14 L109.00,450.22 L109.52,448.15 L110.04,446.37 L110.56,444.38 L111.07,442.41 L111.59,440.24 L112.11,437.96 L112.62,435.75 L113.14,433.78 L113.66,431.37 L114.17,429.15 L114.69,426.81 L115.21,424.12 L115.73,421.80 L116.24,419.34 L116.76,416.86 L117.28,414.34 L117.79,411.76 L118.31,409.19 L118.83,406.43 L119.34,403.97 L119.86,401.30 L120.38,398.76 L120.90,396.07 L121.41,393.54 L121.93,390.93 L122.45,388.24 L122.96,385.61 L123.48,382.97 L124.00,380.30 L124.52,377.73 L125.03,375.12 L125.55,372.65 L126.07,370.07 L126.58,367.62 L127.10,364.95 L127.62,362.72 L128.13,360.13 L128.65,357.76 L129.17,355.47 L129.69,353.14 L130.20,350.97 L130.72,348.68 L131.24,346.48 L131.75,344.40 L132.27,342.57 L132.79,340.46 L133.30,338.41 L133.82,336.65 L134.34,334.69 L134.86,333.29 L135.37,331.29 L135.89,329.89 L136.41,328.37 L136.92,326.71 L137.44,325.51 L137.96,324.28 L138.47,323.02 L138.99,321.86 L139.51,320.89 L140.03,319.86 L140.54,319.02 L141.06,318.23 L141.58,317.66 L142.09,316.99 L142.61,316.81 L143.13,316.55 L143.65,316.58 L144.16,316.92 L144.68,317.32 L145.20,317.61 L145.71,317.91 L146.23,318.56 L146.75,319.05 L147.26,319.77 L147.78,320.56 L148.30,321.16 L148.82,322.32 L149.33,323.19 L149.85,324.29 L150.37,325.35 L150.88,326.55 L151.40,327.89 L151.92,329.41 L152.43,330.91 L152.95,332.23 L153.47,333.88 L153.99,335.36 L154.50,336.87 L155.02,338.81 L155.54,340.63 L156.05,342.39 L156.57,344.36 L157.09,346.34 L157.61,348.21 L158.12,350.20 L158.64,352.43 L159.16,354.57 L159.67,356.75 L160.19,359.11 L160.71,361.44 L161.22,363.53 L161.74,365.97 L162.26,368.35 L162.78,370.72 L163.29,373.16 L163.81,375.45 L164.33,378.01 L164.84,380.61 L165.36,382.97 L165.88,385.31 L166.39,387.94 L166.91,390.51 L167.43,392.92 L167.95,395.34 L168.46,398.05 L168.98,400.27 L169.50,402.93 L170.01,405.36 L170.53,407.71 L171.05,410.40 L171.57,412.74 L172.08,415.00 L172.60,417.56 L173.12,419.82 L173.63,422.01 L174.15,424.44 L174.67,426.81 L175.18,429.09 L175.70,431.25 L176.22,433.41 L176.74,435.59 L177.25,437.62 L177.77,439.81 L178.29,441.72 L178.80,443.70 L179.32,445.65 L179.84,447.37 L180.35,449.24 L180.87,451.26 L181.39,452.88 L181.91,454.51 L182.42,456.22 L182.94,457.73 L183.46,459.36 L183.97,460.76 L184.49,462.31 L185.01,463.53 L185.53,465.17 L186.04,466.30 L186.56,467.45 L187.08,468.80 L187.59,469.95 L188.11,471.12 L188.63,472.07 L189.14,473.25 L189.66,474.56 L190.18,475.01 L190.70,476.08 L191.21,476.87 L191.73,477.74 L192.25,478.32 L192.76,479.13 L193.28,480.00 L193.80,480.62 L194.31,481.42 L194.83,481.79 L195.35,482.45 L195.87,483.26 L196.38,483.40 L196.90,483.86 L197.42,484.40 L197.93,484.82 L198.45,485.31 L198.97,485.61 L199.48,485.87 L200.00,486.30 L200.52,486.85 L201.04,487.00 L201.55,486.86 L202.07,487.37 L202.59,487.53 L203.10,487.89 L203.62,488.01 L204.14,488.41 L204.66,488.48 L205.17,488.63 L205.69,488.71 L206.21,488.82 L206.72,488.98 L207.24,489.19 L207.76,489.22 L208.27,489.23 L208.79,489.48 L209.31,489.46 L209.83,489.50 L210.34,489.50 L210.86,489.58 L211.38,489.63 L211.89,489.47 L212.41,489.90 L212.93,489.89 L213.44,489.85 L213.96,490.01 L214.48,489.98 L215.00,490.01 L215.51,489.75 L216.03,489.99 L216.55,490.09 L217.06,490.22 L217.58,490.26 L218.10,490.23 L218.62,489.98 L219.13,489.89 L219.65,490.18 L220.17,490.13 L220.68,490.24 L221.20,490.13 L221.72,490.18 L222.23,490.01 L222.75,490.21 L223.27,490.12 L223.79,490.21 L224.30,490.22 L224.82,490.17 L225.34,490.21 L225.85,490.18 L226.37,490.26 L226.89,490.24 L227.40,490.14 L227.92,490.13 L228.44,490.37 L228.96,490.18 L229.47,490.29 L229.99,490.23 L230.51,490.14 L231.02,490.12 L231.54,490.21 L232.06,490.22 L232.58,490.26 L233.09,490.07 L233.61,490.14 L234.13,490.19 L234.64,490.36 L235.16,489.96 L235.68,490.24 L236.19,490.15 L236.71,490.24 L237.23,490.15 L237.75,490.24 L238.26,490.36 L238.78,490.24 L239.30,490.24 L239.81,490.24 L240.33,490.12 L240.85,490.25 L241.36,490.18 L241.88,490.12 L242.40,490.20 L242.92,490.18 L243.43,490.28 L243.95,490.20 L244.47,490.15 L244.98,490.35 L245.50,490.30 L246.02,490.33 L246.54,490.26 L247.05,490.19 L247.57,490.16 L248.09,490.17 L248.60,490.29 L249.12,490.21 L249.64,490.05 L250.15,490.20 L250.67,490.06 L251.19,490.22 L251.71,490.08 L252.22,490.07 L252.74,490.21 L253.26,490.19 L253.77,490.03 L254.29,490.27 L254.81,490.42 L255.32,490.05 L255.84,490.38 L256.36,490.13 L256.88,490.15 L257.39,490.18 L257.91,490.06 L258.43,490.33 L258.94,490.25 L259.46,490.12 L259.98,490.17 L260.49,490.05 L261.01,490.17 L261.53,490.29 L262.05,490.03 L262.56,490.16 L263.08,490.21 L263.60,490.30 L264.11,490.33 L264.63,490.15 L265.15,490.13 L265.67,490.25 L266.18,490.16 L266.70,490.17 L267.22,490.31 L267.73,490.37 L268.25,490.23 L268.77,490.18 L269.28,490.26 L269.80,490.01 L270.32,490.20 L270.84,490.09 L271.35,490.44 L271.87,490.27 L272.39,490.21 L272.90,490.18 L273.42,489.95 L273.94,490.27 L274.45,490.36 L274.97,490.13 L275.49,490.27 L276.01,490.27 L276.52,490.05 L277.04,490.29 L277.56,490.34 L278.07,490.22 L278.59,490.19 L279.11,490.28 L279.63,490.05 L280.14,490.21 L280.66,490.31 L281.18,490.08 L281.69,490.30 L282.21,490.16 L282.73,489.99 L283.24,490.19 L283.76,490.10 L284.28,490.23 L284.80,490.08 L285.31,490.31 L285.83,490.13 L286.35,490.24 L286.86,490.14 L287.38,490.17 L287.90,490.32 L288.41,490.22 L288.93,490.16 L289.45,490.07 L289.97,490.32 L290.48,490.27 L291.00,490.17" fill="none" stroke="#f56c00" stroke-width="1.7" stroke-linejoin="round" stroke-linecap="round" />
<path d="M33.00,490.22 L33.52,490.10 L34.03,490.10 L34.55,490.12 L35.07,490.24 L35.59,490.23 L36.10,490.13 L36.62,490.27 L37.14,490.28 L37.65,490.22 L38.17,490.30 L38.69,490.17 L39.20,490.19 L39.72,490.25 L40.24,490.20 L40.76,490.28 L41.27,490.07 L41.79,490.34 L42.31,490.12 L42.82,490.18 L43.34,490.06 L43.86,490.26 L44.37,490.33 L44.89,490.31 L45.41,490.28 L45.93,490.04 L46.44,490.12 L46.96,490.15 L47.48,490.11 L47.99,490.31 L48.51,490.22 L49.03,490.20 L49.55,490.25 L50.06,490.10 L50.58,490.11 L51.10,490.11 L51.61,490.25 L52.13,490.23 L52.65,490.26 L53.16,490.31 L53.68,490.06 L54.20,490.14 L54.72,490.21 L55.23,490.07 L55.75,490.15 L56.27,490.30 L56.78,490.31 L57.30,490.31 L57.82,490.20 L58.33,490.18 L58.85,490.31 L59.37,490.16 L59.89,490.23 L60.40,490.33 L60.92,490.16 L61.44,490.14 L61.95,490.20 L62.47,490.26 L62.99,490.25 L63.51,490.22 L64.02,490.26 L64.54,490.04 L65.06,490.11 L65.57,490.22 L66.09,490.11 L66.61,490.07 L67.12,490.08 L67.64,490.11 L68.16,490.18 L68.68,490.10 L69.19,490.22 L69.71,490.37 L70.23,490.18 L70.74,490.32 L71.26,490.23 L71.78,490.08 L72.29,490.17 L72.81,490.10 L73.33,490.27 L73.85,490.08 L74.36,490.32 L74.88,490.25 L75.40,489.99 L75.91,490.27 L76.43,490.34 L76.95,490.10 L77.46,490.28 L77.98,490.00 L78.50,490.20 L79.02,490.00 L79.53,490.22 L80.05,489.98 L80.57,489.89 L81.08,490.19 L81.60,490.37 L82.12,490.08 L82.64,490.21 L83.15,490.13 L83.67,490.08 L84.19,490.16 L84.70,490.25 L85.22,489.95 L85.74,490.11 L86.25,490.07 L86.77,489.88 L87.29,490.16 L87.81,490.17 L88.32,489.85 L88.84,490.09 L89.36,489.89 L89.87,489.84 L90.39,489.96 L90.91,489.79 L91.42,489.76 L91.94,489.83 L92.46,489.75 L92.98,489.65 L93.49,489.35 L94.01,489.27 L94.53,489.46 L95.04,489.17 L95.56,489.18 L96.08,488.96 L96.60,488.95 L97.11,488.72 L97.63,488.89 L98.15,488.49 L98.66,488.43 L99.18,488.27 L99.70,488.24 L100.21,487.80 L100.73,487.74 L101.25,487.52 L101.77,487.37 L102.28,487.13 L102.80,486.78 L103.32,486.58 L103.83,486.23 L104.35,486.01 L104.87,485.63 L105.38,485.24 L105.90,484.93 L106.42,484.59 L106.94,484.37 L107.45,483.67 L107.97,483.29 L108.49,482.93 L109.00,482.07 L109.52,481.58 L110.04,481.08 L110.56,480.60 L111.07,480.25 L111.59,479.40 L112.11,478.81 L112.62,477.97 L113.14,477.02 L113.66,476.28 L114.17,475.82 L114.69,474.91 L115.21,473.91 L115.73,473.27 L116.24,472.08 L116.76,471.40 L117.28,470.45 L117.79,469.21 L118.31,468.13 L118.83,467.24 L119.34,465.94 L119.86,464.99 L120.38,463.61 L120.90,462.61 L121.41,461.30 L121.93,459.98 L122.45,458.64 L122.96,457.44 L123.48,455.88 L124.00,454.67 L124.52,453.26 L125.03,451.95 L125.55,450.32 L126.07,449.16 L126.58,447.48 L127.10,445.90 L127.62,444.64 L128.13,443.15 L128.65,441.43 L129.17,439.81 L129.69,438.35 L130.20,436.72 L130.72,435.20 L131.24,433.83 L131.75,432.15 L132.27,430.57 L132.79,429.04 L133.30,427.46 L133.82,426.02 L134.34,424.50 L134.86,422.88 L135.37,421.44 L135.89,420.21 L136.41,418.57 L136.92,417.10 L137.44,415.93 L137.96,414.37 L138.47,412.94 L138.99,411.83 L139.51,410.43 L140.03,409.26 L140.54,408.17 L141.06,407.01 L141.58,405.87 L142.09,404.86 L142.61,403.88 L143.13,403.13 L143.65,402.07 L144.16,401.27 L144.68,400.77 L145.20,399.81 L145.71,399.37 L146.23,398.78 L146.75,398.11 L147.26,397.53 L147.78,397.33 L148.30,397.02 L148.82,396.79 L149.33,396.51 L149.85,396.49 L150.37,396.45 L150.88,396.38 L151.40,396.97 L151.92,397.21 L152.43,397.53 L152.95,397.97 L153.47,398.65 L153.99,399.05 L154.50,399.29 L155.02,400.04 L155.54,400.62 L156.05,401.26 L156.57,401.90 L157.09,402.53 L157.61,403.53 L158.12,404.15 L158.64,405.06 L159.16,405.92 L159.67,406.84 L160.19,407.95 L160.71,408.93 L161.22,409.87 L161.74,410.93 L162.26,412.10 L162.78,413.40 L163.29,414.51 L163.81,415.75 L164.33,416.95 L164.84,418.25 L165.36,419.61 L165.88,420.75 L166.39,422.46 L166.91,423.61 L167.43,425.05 L167.95,426.67 L168.46,428.01 L168.98,429.45 L169.50,430.86 L170.01,432.25 L170.53,433.92 L171.05,435.52 L171.57,436.82 L172.08,438.55 L172.60,439.80 L173.12,441.35 L173.63,442.97 L174.15,444.41 L174.67,445.96 L175.18,447.29 L175.70,448.72 L176.22,450.08 L176.74,451.58 L177.25,453.00 L177.77,454.36 L178.29,455.90 L178.80,457.16 L179.32,458.35 L179.84,460.09 L180.35,461.04 L180.87,462.24 L181.39,463.71 L181.91,464.89 L182.42,465.82 L182.94,466.91 L183.46,468.06 L183.97,469.34 L184.49,470.23 L185.01,471.18 L185.53,472.23 L186.04,473.29 L186.56,473.93 L187.08,474.90 L187.59,475.64 L188.11,476.80 L188.63,477.54 L189.14,478.20 L189.66,478.80 L190.18,479.56 L190.70,479.94 L191.21,480.80 L191.73,481.23 L192.25,481.79 L192.76,482.39 L193.28,482.93 L193.80,483.51 L194.31,483.98 L194.83,484.37 L195.35,484.65 L195.87,485.20 L196.38,485.49 L196.90,485.96 L197.42,486.07 L197.93,486.19 L198.45,486.70 L198.97,487.23 L199.48,487.31 L200.00,487.47 L200.52,487.80 L201.04,487.96 L201.55,488.15 L202.07,488.22 L202.59,488.44 L203.10,488.61 L203.62,488.66 L204.14,488.74 L204.66,488.99 L205.17,489.18 L205.69,489.25 L206.21,489.33 L206.72,489.41 L207.24,489.70 L207.76,489.54 L208.27,489.68 L208.79,489.83 L209.31,489.70 L209.83,489.77 L210.34,489.89 L210.86,490.00 L211.38,489.90 L211.89,489.94 L212.41,489.94 L212.93,489.84 L213.44,490.10 L213.96,489.99 L214.48,489.86 L215.00,490.04 L215.51,489.89 L216.03,489.98 L216.55,490.10 L217.06,490.02 L217.58,490.23 L218.10,489.98 L218.62,490.16 L219.13,490.20 L219.65,490.30 L220.17,490.25 L220.68,490.19 L221.20,490.18 L221.72,490.17 L222.23,490.29 L222.75,490.11 L223.27,490.23 L223.79,490.17 L224.30,490.21 L224.82,490.16 L225.34,490.40 L225.85,490.13 L226.37,490.22 L226.89,490.22 L227.40,490.26 L227.92,490.24 L228.44,490.24 L228.96,490.30 L229.47,490.05 L229.99,490.20 L230.51,490.08 L231.02,490.22 L231.54,490.08 L232.06,490.10 L232.58,490.19 L233.09,490.34 L233.61,490.26 L234.13,490.23 L234.64,490.34 L235.16,490.11 L235.68,489.99 L236.19,490.16 L236.71,490.17 L237.23,490.32 L237.75,490.42 L238.26,490.07 L238.78,490.45 L239.30,490.36 L239.81,490.29 L240.33,490.24 L240.85,490.44 L241.36,490.21 L241.88,490.15 L242.40,490.22 L242.92,490.06 L243.43,490.25 L243.95,490.19 L244.47,490.23 L244.98,490.24 L245.50,490.10 L246.02,490.33 L246.54,490.10 L247.05,490.29 L247.57,490.04 L248.09,490.24 L248.60,490.12 L249.12,490.21 L249.64,490.14 L250.15,489.98 L250.67,490.09 L251.19,490.21 L251.71,490.26 L252.22,490.05 L252.74,489.99 L253.26,490.11 L253.77,490.18 L254.29,490.14 L254.81,490.12 L255.32,490.29 L255.84,490.30 L256.36,490.28 L256.88,490.11 L257.39,490.21 L257.91,490.18 L258.43,490.06 L258.94,490.29 L259.46,490.21 L259.98,490.15 L260.49,490.34 L261.01,490.28 L261.53,490.29 L262.05,490.32 L262.56,490.27 L263.08,490.07 L263.60,490.16 L264.11,490.30 L264.63,490.12 L265.15,490.21 L265.67,490.24 L266.18,490.35 L266.70,490.33 L267.22,490.29 L267.73,490.18 L268.25,490.29 L268.77,490.25 L269.28,490.19 L269.80,490.34 L270.32,490.25 L270.84,490.13 L271.35,490.33 L271.87,490.18 L272.39,490.26 L272.90,490.05 L273.42,490.20 L273.94,490.11 L274.45,490.10 L274.97,490.01 L275.49,490.42 L276.01,490.19 L276.52,490.22 L277.04,490.31 L277.56,490.19 L278.07,490.25 L278.59,490.07 L279.11,490.22 L279.63,490.16 L280.14,490.25 L280.66,490.22 L281.18,490.06 L281.69,490.02 L282.21,490.10 L282.73,490.27 L283.24,490.24 L283.76,490.24 L284.28,490.00 L284.80,489.93 L285.31,490.14 L285.83,490.17 L286.35,490.14 L286.86,490.24 L287.38,490.18 L287.90,490.08 L288.41,490.11 L288.93,490.21 L289.45,490.21 L289.97,490.19 L290.48,490.43 L291.00,490.17" fill="none" stroke="#8c00cc" stroke-width="2.0" stroke-linejoin="round" stroke-linecap="round" />
<rect x="33" y="295.3" width="258" height="209.0" fill="none" stroke="#2a2a2a" stroke-width="1.4"/>
<line x1="33.0" y1="504.3" x2="33.0" y2="506.5" stroke="#2a2a2a" stroke-width="1.3" />
<line x1="33.0" y1="295.3" x2="33.0" y2="297.5" stroke="#2a2a2a" stroke-width="1.3" />
<line x1="69.85714285714286" y1="504.3" x2="69.85714285714286" y2="507.8" stroke="#2a2a2a" stroke-width="1.3" />
<line x1="69.85714285714286" y1="295.3" x2="69.85714285714286" y2="298.8" stroke="#2a2a2a" stroke-width="1.3" />
<line x1="106.71428571428571" y1="504.3" x2="106.71428571428571" y2="506.5" stroke="#2a2a2a" stroke-width="1.3" />
<line x1="106.71428571428571" y1="295.3" x2="106.71428571428571" y2="297.5" stroke="#2a2a2a" stroke-width="1.3" />
<line x1="143.57142857142856" y1="504.3" x2="143.57142857142856" y2="507.8" stroke="#2a2a2a" stroke-width="1.3" />
<line x1="143.57142857142856" y1="295.3" x2="143.57142857142856" y2="298.8" stroke="#2a2a2a" stroke-width="1.3" />
<line x1="180.42857142857142" y1="504.3" x2="180.42857142857142" y2="506.5" stroke="#2a2a2a" stroke-width="1.3" />
<line x1="180.42857142857142" y1="295.3" x2="180.42857142857142" y2="297.5" stroke="#2a2a2a" stroke-width="1.3" />
<line x1="217.28571428571428" y1="504.3" x2="217.28571428571428" y2="507.8" stroke="#2a2a2a" stroke-width="1.3" />
<line x1="217.28571428571428" y1="295.3" x2="217.28571428571428" y2="298.8" stroke="#2a2a2a" stroke-width="1.3" />
<line x1="254.14285714285714" y1="504.3" x2="254.14285714285714" y2="506.5" stroke="#2a2a2a" stroke-width="1.3" />
<line x1="254.14285714285714" y1="295.3" x2="254.14285714285714" y2="297.5" stroke="#2a2a2a" stroke-width="1.3" />
<line x1="291.0" y1="504.3" x2="291.0" y2="507.8" stroke="#2a2a2a" stroke-width="1.3" />
<line x1="291.0" y1="295.3" x2="291.0" y2="298.8" stroke="#2a2a2a" stroke-width="1.3" />
<text x="69.85714285714286" y="520.6" font-family="Liberation Sans" font-size="12.8" font-weight="normal" text-anchor="middle" fill="#000" stroke="#000" stroke-width="0.22">760</text>
<text x="143.57142857142856" y="520.6" font-family="Liberation Sans" font-size="12.8" font-weight="normal" text-anchor="middle" fill="#000" stroke="#000" stroke-width="0.22">780</text>
<text x="217.28571428571428" y="520.6" font-family="Liberation Sans" font-size="12.8" font-weight="normal" text-anchor="middle" fill="#000" stroke="#000" stroke-width="0.22">800</text>
<text x="291.0" y="520.6" font-family="Liberation Sans" font-size="12.8" font-weight="normal" text-anchor="middle" fill="#000" stroke="#000" stroke-width="0.22">820</text>
<text x="161.6" y="542.4" font-family="Liberation Sans" font-size="14.8" font-weight="normal" text-anchor="middle" fill="#000" stroke="#000" stroke-width="0.22">Wavelength (nm)</text>
<text x="14.8" y="393.2" font-family="Liberation Sans" font-size="14.9" font-weight="normal" text-anchor="middle" fill="#000" transform="rotate(-90 14.8 393.2)" stroke="#000" stroke-width="0.22">PL intensity (a.u.)</text>
<text x="3.7" y="291.6" font-family="Liberation Serif" font-size="23.3" font-weight="bold" text-anchor="start" fill="#000" stroke="#000" stroke-width="0.55">(c)</text>
<line x1="33.6" y1="309.5" x2="62" y2="309.5" stroke="#8c00cc" stroke-width="1.7" />
<line x1="33.6" y1="324.3" x2="62" y2="324.3" stroke="#f56c00" stroke-width="1.6" />
<text x="65.2" y="314.1" font-family="Liberation Sans" font-size="12.3" font-weight="normal" text-anchor="start" fill="#000" stroke="#000" stroke-width="0.22">with TBAI</text>
<text x="65.2" y="328.9" font-family="Liberation Sans" font-size="12.3" font-weight="normal" text-anchor="start" fill="#000" stroke="#000" stroke-width="0.22">without TBAI</text>
<rect x="182" y="297.8" width="102.39999999999998" height="82.80000000000001" fill="#fff" stroke="#777" stroke-width="0.9"/>
<clipPath id="cc"><rect x="182" y="297.8" width="102.39999999999998" height="82.80000000000001"/></clipPath>
<g clip-path="url(#cc)">
<path d="M236.60,382.00 L236.90,379.60 L241.80,347.90 L244.20,339.40 L247.20,330.90 L250.00,322.30 L252.70,325.40 L255.20,333.30 L257.00,345.50 L260.00,379.60 L260.30,382.00" fill="none" stroke="#f58a3a" stroke-width="1.2" stroke-linejoin="round" stroke-linecap="round" />
<path d="M205.60,382.00 L205.90,379.60 L211.60,329.60 L213.40,325.40 L214.90,321.70 L218.30,324.10 L220.10,332.10 L228.70,379.60 L229.10,382.00" fill="none" stroke="#a040e0" stroke-width="1.4" stroke-linejoin="round" stroke-linecap="round" />
</g>
<line x1="249.5" y1="318.3" x2="219.5" y2="318.3" stroke="#f01010" stroke-width="1.2" />
<path d="M215.8,318.3 L220.5,316.3 L220.5,320.3 Z" fill="#f01010"/>
<line x1="215.6" y1="319" x2="215.6" y2="335" stroke="#444" stroke-width="0.9" stroke-dasharray="1.2,2.2"/>
<line x1="214.6" y1="317.2" x2="216.6" y2="317.2" stroke="#444" stroke-width="0.7" />
<line x1="249.6" y1="319" x2="249.6" y2="335" stroke="#444" stroke-width="0.9" stroke-dasharray="1.2,2.2"/>
<line x1="248.6" y1="317.2" x2="250.6" y2="317.2" stroke="#444" stroke-width="0.7" />
<line x1="182.0" y1="380.6" x2="182.0" y2="378.40000000000003" stroke="#777" stroke-width="0.7" />
<line x1="182.0" y1="297.8" x2="182.0" y2="300.0" stroke="#777" stroke-width="0.7" />
<line x1="199.0666666666663" y1="380.6" x2="199.0666666666663" y2="379.3" stroke="#777" stroke-width="0.7" />
<line x1="199.0666666666663" y1="297.8" x2="199.0666666666663" y2="299.1" stroke="#777" stroke-width="0.7" />
<line x1="216.13333333333335" y1="380.6" x2="216.13333333333335" y2="378.40000000000003" stroke="#777" stroke-width="0.7" />
<line x1="216.13333333333335" y1="297.8" x2="216.13333333333335" y2="300.0" stroke="#777" stroke-width="0.7" />
<line x1="233.19999999999965" y1="380.6" x2="233.19999999999965" y2="379.3" stroke="#777" stroke-width="0.7" />
<line x1="233.19999999999965" y1="297.8" x2="233.19999999999965" y2="299.1" stroke="#777" stroke-width="0.7" />
<line x1="250.2666666666667" y1="380.6" x2="250.2666666666667" y2="378.40000000000003" stroke="#777" stroke-width="0.7" />
<line x1="250.2666666666667" y1="297.8" x2="250.2666666666667" y2="300.0" stroke="#777" stroke-width="0.7" />
<line x1="267.33333333333303" y1="380.6" x2="267.33333333333303" y2="379.3" stroke="#777" stroke-width="0.7" />
<line x1="267.33333333333303" y1="297.8" x2="267.33333333333303" y2="299.1" stroke="#777" stroke-width="0.7" />
<line x1="284.4000000000001" y1="380.6" x2="284.4000000000001" y2="378.40000000000003" stroke="#777" stroke-width="0.7" />
<line x1="284.4000000000001" y1="297.8" x2="284.4000000000001" y2="300.0" stroke="#777" stroke-width="0.7" />
<text x="182.0" y="387.4" font-family="Liberation Sans" font-size="5.0" font-weight="normal" text-anchor="middle" fill="#333" >1.57</text>
<text x="216.13333333333335" y="387.4" font-family="Liberation Sans" font-size="5.0" font-weight="normal" text-anchor="middle" fill="#333" >1.58</text>
<text x="250.2666666666667" y="387.4" font-family="Liberation Sans" font-size="5.0" font-weight="normal" text-anchor="middle" fill="#333" >1.59</text>
<text x="284.4000000000001" y="387.4" font-family="Liberation Sans" font-size="5.0" font-weight="normal" text-anchor="middle" fill="#333" >1.60</text>
<text x="233.3" y="396" font-family="Liberation Sans" font-size="5.8" font-weight="normal" text-anchor="middle" fill="#222" >Energy (eV)</text>
<text x="175.5" y="337" font-family="Liberation Sans" font-size="5.8" font-weight="normal" text-anchor="middle" fill="#222" transform="rotate(-90 175.5 337)" >Normalized PL (a.u.)</text>
<defs><radialGradient id="gp" cx="0.5" cy="0.5" r="0.5" fx="0.42" fy="0.32"><stop offset="0" stop-color="#ffffff"/><stop offset="0.22" stop-color="#e8c8ff"/><stop offset="0.45" stop-color="#9a10e0"/><stop offset="1" stop-color="#7a00c0"/></radialGradient><radialGradient id="go" cx="0.5" cy="0.5" r="0.5" fx="0.42" fy="0.32"><stop offset="0" stop-color="#ffffff"/><stop offset="0.22" stop-color="#ffe0c0"/><stop offset="0.45" stop-color="#ff7a10"/><stop offset="1" stop-color="#ee6a00"/></radialGradient><clipPath id="cd"><rect x="349.5" y="295.4" width="257.5" height="207.40000000000003"/></clipPath></defs>
<g clip-path="url(#cd)">
<path d="M357.40,297.00 L357.20,304.90 L357.83,311.59 L358.45,318.03 L359.08,324.22 L359.70,330.18 L360.33,335.91 L360.95,341.43 L361.58,346.73 L362.20,351.84 L362.83,356.74 L363.46,361.47 L364.08,366.01 L364.71,370.38 L365.33,374.58 L365.96,378.63 L366.58,382.52 L367.21,386.26 L367.83,389.86 L368.46,393.32 L369.09,396.65 L369.71,399.86 L370.34,402.94 L370.96,405.91 L371.59,408.76 L372.21,411.50 L372.84,414.14 L373.46,416.68 L374.09,419.13 L374.72,421.48 L375.34,423.74 L375.97,425.91 L376.59,428.01 L377.22,430.02 L377.84,431.96 L378.47,433.82 L379.09,435.61 L379.72,437.33 L380.35,438.99 L380.97,440.59 L381.60,442.12 L382.22,443.60 L382.85,445.02 L383.47,446.39 L384.10,447.70 L384.72,448.96 L385.35,450.18 L385.98,451.35 L386.60,452.48 L387.23,453.56 L387.85,454.60 L388.48,455.60 L389.10,456.57 L389.73,457.49 L390.35,458.39 L390.98,459.24 L391.61,460.07 L392.23,460.86 L392.86,461.63 L393.48,462.36 L394.11,463.07 L394.73,463.75 L395.36,464.40 L395.98,465.03 L396.61,465.64 L397.24,466.22 L397.86,466.78 L398.49,467.32 L399.11,467.84 L399.74,468.34 L400.36,468.82 L400.99,469.28 L401.62,469.72 L402.24,470.15 L402.87,470.56 L403.49,470.95 L404.12,471.34 L404.74,471.70 L405.37,472.05 L405.99,472.39 L406.62,472.72 L407.25,473.03 L407.87,473.33 L408.50,473.62 L409.12,473.90 L409.75,474.17 L410.37,474.43 L411.00,474.67 L411.62,474.91 L412.25,475.14 L412.88,475.36 L413.50,475.58 L414.13,475.78 L414.75,475.98 L415.38,476.17 L416.00,476.35 L416.63,476.52 L417.25,476.69 L417.88,476.86 L418.51,477.01 L419.13,477.16 L419.76,477.31 L420.38,477.44 L421.01,477.58 L421.63,477.71 L422.26,477.83 L422.88,477.95 L423.51,478.06 L424.14,478.17 L424.76,478.28 L425.39,478.38 L426.01,478.48 L426.64,478.57 L427.26,478.66 L427.89,478.75 L428.51,478.83 L429.14,478.92 L429.77,478.99 L430.39,479.07 L431.02,479.14 L431.64,479.21 L432.27,479.28 L432.89,479.34 L433.52,479.40 L434.14,479.46 L434.77,479.52 L435.40,479.57 L436.02,479.62 L436.65,479.67 L437.27,479.72 L437.90,479.77 L438.52,479.82 L439.15,479.86 L439.77,479.90 L440.40,479.94 L441.03,479.98 L441.65,480.02 L442.28,480.05 L442.90,480.09 L443.53,480.12 L444.15,480.15 L444.78,480.18 L445.40,480.21 L446.03,480.24 L446.66,480.27 L447.28,480.29 L447.91,480.32 L448.53,480.34 L449.16,480.37 L449.78,480.39 L450.41,480.41 L451.03,480.43 L451.66,480.45 L452.29,480.47 L452.91,480.49 L453.54,480.51 L454.16,480.52 L454.79,480.54 L455.41,480.56 L456.04,480.57 L456.66,480.59 L457.29,480.60 L457.92,480.61 L458.54,480.63 L459.17,480.64 L459.79,480.65 L460.42,480.66 L461.04,480.67 L461.67,480.68 L462.29,480.70 L462.92,480.71 L463.55,480.71 L464.17,480.72 L464.80,480.73 L465.42,480.74 L466.05,480.75 L466.67,480.76 L467.30,480.77 L467.92,480.77 L468.55,480.78 L469.18,480.79 L469.80,480.79 L470.43,480.80 L471.05,480.80 L471.68,480.81 L472.30,480.82 L472.93,480.82 L473.55,480.83 L474.18,480.83 L474.81,480.84 L475.43,480.84 L476.06,480.85 L476.68,480.85 L477.31,480.85 L477.93,480.86 L478.56,480.86 L479.18,480.87 L479.81,480.87 L480.44,480.87 L481.06,480.88 L481.69,480.88 L482.31,480.88 L482.94,480.88 L483.56,480.89 L484.19,480.89 L484.82,480.89 L485.44,480.89 L486.07,480.90 L486.69,480.90 L487.32,480.90 L487.94,480.90 L488.57,480.91 L489.19,480.91 L489.82,480.91 L490.45,480.91 L491.07,480.91 L491.70,480.91 L492.32,480.92 L492.95,480.92 L493.57,480.92 L494.20,480.92 L494.82,480.92 L495.45,480.92 L496.08,480.92 L496.70,480.93 L497.33,480.93 L497.95,480.93 L498.58,480.93 L499.20,480.93 L499.83,480.93 L500.45,480.93 L501.08,480.93 L501.71,480.93 L502.33,480.94 L502.96,480.94 L503.58,480.94 L504.21,480.94 L504.83,480.94 L505.46,480.94 L506.08,480.94 L506.71,480.94 L507.34,480.94 L507.96,480.94 L508.59,480.94 L509.21,480.94 L509.84,480.94 L510.46,480.94 L511.09,480.94 L511.71,480.94 L512.34,480.95 L512.97,480.95 L513.59,480.95 L514.22,480.95 L514.84,480.95 L515.47,480.95 L516.09,480.95 L516.72,480.95 L517.34,480.95 L517.97,480.95 L518.60,480.95 L519.22,480.95 L519.85,480.95 L520.47,480.95 L521.10,480.95 L521.72,480.95 L522.35,480.95 L522.97,480.95 L523.60,480.95 L524.23,480.95 L524.85,480.95 L525.48,480.95 L526.10,480.95 L526.73,480.95 L527.35,480.95 L527.98,480.95 L528.60,480.95 L529.23,480.95 L529.86,480.95 L530.48,480.95 L531.11,480.95 L531.73,480.95 L532.36,480.95 L532.98,480.95 L533.61,480.95 L534.23,480.95 L534.86,480.95 L535.49,480.95 L536.11,480.95 L536.74,480.95 L537.36,480.95 L537.99,480.95 L538.61,480.95 L539.24,480.95 L539.86,480.95 L540.49,480.96 L541.12,480.96 L541.74,480.96 L542.37,480.96 L542.99,480.96 L543.62,480.96 L544.24,480.96 L544.87,480.96 L545.49,480.96 L546.12,480.96 L546.75,480.96 L547.37,480.96 L548.00,480.96 L548.62,480.96 L549.25,480.96 L549.87,480.96 L550.50,480.96 L551.12,480.96 L551.75,480.96 L552.38,480.96 L553.00,480.96 L553.63,480.96 L554.25,480.96 L554.88,480.96 L555.50,480.96 L556.13,480.96 L556.75,480.96 L557.38,480.96 L558.01,480.96 L558.63,480.96 L559.26,480.96 L559.88,480.96 L560.51,480.96 L561.13,480.96 L561.76,480.96 L562.38,480.96 L563.01,480.96 L563.64,480.96 L564.26,480.96 L564.89,480.96 L565.51,480.96 L566.14,480.96 L566.76,480.96 L567.39,480.96 L568.02,480.96 L568.64,480.96 L569.27,480.96 L569.89,480.96 L570.52,480.96 L571.14,480.96 L571.77,480.96 L572.39,480.96 L573.02,480.96 L573.65,480.96 L574.27,480.96 L574.90,480.96 L575.52,480.96 L576.15,480.96 L576.77,480.96 L577.40,480.96 L578.02,480.96 L578.65,480.96 L579.28,480.96 L579.90,480.96 L580.53,480.96 L581.15,480.96 L581.78,480.96 L582.40,480.96 L583.03,480.96 L583.65,480.96 L584.28,480.96 L584.91,480.96 L585.53,480.96 L586.16,480.96 L586.78,480.96 L587.41,480.96 L588.03,480.96 L588.66,480.96 L589.28,480.96 L589.91,480.96 L590.54,480.96 L591.16,480.96 L591.79,480.96 L592.41,480.96 L593.04,480.96 L593.66,480.96 L594.29,480.96 L594.91,480.96 L595.54,480.96 L596.17,480.96 L596.79,480.96 L597.42,480.96 L598.04,480.96 L598.67,480.96 L599.29,480.96 L599.92,480.96 L600.54,480.96 L601.17,480.96 L601.80,480.96 L602.42,480.96 L603.05,480.96 L603.67,480.96 L604.30,480.96 L604.92,480.96 L605.55,480.96 L606.17,480.96 L606.80,480.96" fill="none" stroke="#f56c00" stroke-width="1.3" stroke-linejoin="round" stroke-linecap="round" />
<path d="M357.20,304.90 L357.83,315.66 L358.45,325.79 L359.08,335.33 L359.70,344.30 L360.33,352.75 L360.95,360.71 L361.58,368.20 L362.20,375.25 L362.83,381.89 L363.46,388.13 L364.08,394.02 L364.71,399.55 L365.33,404.77 L365.96,409.67 L366.58,414.29 L367.21,418.64 L367.83,422.74 L368.46,426.59 L369.09,430.22 L369.71,433.64 L370.34,436.85 L370.96,439.88 L371.59,442.73 L372.21,445.41 L372.84,447.94 L373.46,450.31 L374.09,452.55 L374.72,454.66 L375.34,456.64 L375.97,458.51 L376.59,460.27 L377.22,461.92 L377.84,463.48 L378.47,464.95 L379.09,466.33 L379.72,467.63 L380.35,468.85 L380.97,470.00 L381.60,471.09 L382.22,472.11 L382.85,473.07 L383.47,473.97 L384.10,474.83 L384.72,475.63 L385.35,476.38 L385.98,477.09 L386.60,477.76 L387.23,478.39 L387.85,478.98 L388.48,479.54 L389.10,480.07 L389.73,480.56 L390.35,481.03 L390.98,481.47 L391.61,481.88 L392.23,482.27 L392.86,482.63 L393.48,482.98 L394.11,483.30 L394.73,483.60 L395.36,483.89 L395.98,484.16 L396.61,484.42 L397.24,484.66 L397.86,484.88 L398.49,485.09 L399.11,485.29 L399.74,485.48 L400.36,485.66 L400.99,485.83 L401.62,485.98 L402.24,486.13 L402.87,486.27 L403.49,486.40 L404.12,486.52 L404.74,486.64 L405.37,486.75 L405.99,486.85 L406.62,486.95 L407.25,487.04 L407.87,487.13 L408.50,487.21 L409.12,487.28 L409.75,487.35 L410.37,487.42 L411.00,487.49 L411.62,487.55 L412.25,487.60 L412.88,487.65 L413.50,487.70 L414.13,487.75 L414.75,487.80 L415.38,487.84 L416.00,487.88 L416.63,487.91 L417.25,487.95 L417.88,487.98 L418.51,488.01 L419.13,488.04 L419.76,488.07 L420.38,488.09 L421.01,488.12 L421.63,488.14 L422.26,488.16 L422.88,488.18 L423.51,488.20 L424.14,488.22 L424.76,488.24 L425.39,488.25 L426.01,488.27 L426.64,488.28 L427.26,488.29 L427.89,488.31 L428.51,488.32 L429.14,488.33 L429.77,488.34 L430.39,488.35 L431.02,488.36 L431.64,488.37 L432.27,488.37 L432.89,488.38 L433.52,488.39 L434.14,488.40 L434.77,488.40 L435.40,488.41 L436.02,488.41 L436.65,488.42 L437.27,488.42 L437.90,488.43 L438.52,488.43 L439.15,488.44 L439.77,488.44 L440.40,488.45 L441.03,488.45 L441.65,488.45 L442.28,488.46 L442.90,488.46 L443.53,488.46 L444.15,488.46 L444.78,488.47 L445.40,488.47 L446.03,488.47 L446.66,488.47 L447.28,488.47 L447.91,488.48 L448.53,488.48 L449.16,488.48 L449.78,488.48 L450.41,488.48 L451.03,488.48 L451.66,488.48 L452.29,488.49 L452.91,488.49 L453.54,488.49 L454.16,488.49 L454.79,488.49 L455.41,488.49 L456.04,488.49 L456.66,488.49 L457.29,488.49 L457.92,488.49 L458.54,488.49 L459.17,488.50 L459.79,488.50 L460.42,488.50 L461.04,488.50 L461.67,488.50 L462.29,488.50 L462.92,488.50 L463.55,488.50 L464.17,488.50 L464.80,488.50 L465.42,488.50 L466.05,488.50 L466.67,488.50 L467.30,488.50 L467.92,488.50 L468.55,488.50 L469.18,488.50 L469.80,488.50 L470.43,488.50 L471.05,488.50 L471.68,488.50 L472.30,488.50 L472.93,488.50 L473.55,488.50 L474.18,488.50 L474.81,488.50 L475.43,488.50 L476.06,488.50 L476.68,488.50 L477.31,488.50 L477.93,488.50 L478.56,488.50 L479.18,488.50 L479.81,488.50 L480.44,488.50 L481.06,488.50 L481.69,488.50 L482.31,488.50 L482.94,488.50 L483.56,488.50 L484.19,488.50 L484.82,488.50 L485.44,488.50 L486.07,488.50 L486.69,488.50 L487.32,488.50 L487.94,488.50 L488.57,488.50 L489.19,488.50 L489.82,488.50 L490.45,488.50 L491.07,488.50 L491.70,488.50 L492.32,488.50 L492.95,488.50 L493.57,488.50 L494.20,488.50 L494.82,488.50 L495.45,488.50 L496.08,488.50 L496.70,488.50 L497.33,488.50 L497.95,488.50 L498.58,488.50 L499.20,488.50 L499.83,488.50 L500.45,488.50 L501.08,488.50 L501.71,488.50 L502.33,488.50 L502.96,488.50 L503.58,488.50 L504.21,488.50 L504.83,488.50 L505.46,488.50 L506.08,488.50 L506.71,488.51 L507.34,488.51 L507.96,488.51 L508.59,488.51 L509.21,488.51 L509.84,488.51 L510.46,488.51 L511.09,488.51 L511.71,488.51 L512.34,488.51 L512.97,488.51 L513.59,488.51 L514.22,488.51 L514.84,488.51 L515.47,488.51 L516.09,488.51 L516.72,488.51 L517.34,488.51 L517.97,488.51 L518.60,488.51 L519.22,488.51 L519.85,488.51 L520.47,488.51 L521.10,488.51 L521.72,488.51 L522.35,488.51 L522.97,488.51 L523.60,488.51 L524.23,488.51 L524.85,488.51 L525.48,488.51 L526.10,488.51 L526.73,488.51 L527.35,488.51 L527.98,488.51 L528.60,488.51 L529.23,488.51 L529.86,488.51 L530.48,488.51 L531.11,488.51 L531.73,488.51 L532.36,488.51 L532.98,488.51 L533.61,488.51 L534.23,488.51 L534.86,488.51 L535.49,488.51 L536.11,488.51 L536.74,488.51 L537.36,488.51 L537.99,488.51 L538.61,488.51 L539.24,488.51 L539.86,488.51 L540.49,488.51 L541.12,488.51 L541.74,488.51 L542.37,488.51 L542.99,488.51 L543.62,488.51 L544.24,488.51 L544.87,488.51 L545.49,488.51 L546.12,488.51 L546.75,488.51 L547.37,488.51 L548.00,488.51 L548.62,488.51 L549.25,488.51 L549.87,488.51 L550.50,488.51 L551.12,488.51 L551.75,488.51 L552.38,488.51 L553.00,488.51 L553.63,488.51 L554.25,488.51 L554.88,488.51 L555.50,488.51 L556.13,488.51 L556.75,488.51 L557.38,488.51 L558.01,488.51 L558.63,488.51 L559.26,488.51 L559.88,488.51 L560.51,488.51 L561.13,488.51 L561.76,488.51 L562.38,488.51 L563.01,488.51 L563.64,488.51 L564.26,488.51 L564.89,488.51 L565.51,488.51 L566.14,488.51 L566.76,488.51 L567.39,488.51 L568.02,488.51 L568.64,488.51 L569.27,488.51 L569.89,488.51 L570.52,488.51 L571.14,488.51 L571.77,488.51 L572.39,488.51 L573.02,488.51 L573.65,488.51 L574.27,488.51 L574.90,488.51 L575.52,488.51 L576.15,488.51 L576.77,488.51 L577.40,488.51 L578.02,488.51 L578.65,488.51 L579.28,488.51 L579.90,488.51 L580.53,488.51 L581.15,488.51 L581.78,488.51 L582.40,488.51 L583.03,488.51 L583.65,488.51 L584.28,488.51 L584.91,488.51 L585.53,488.51 L586.16,488.51 L586.78,488.51 L587.41,488.51 L588.03,488.51 L588.66,488.51 L589.28,488.51 L589.91,488.51 L590.54,488.51 L591.16,488.51 L591.79,488.51 L592.41,488.51 L593.04,488.51 L593.66,488.51 L594.29,488.51 L594.91,488.51 L595.54,488.51 L596.17,488.51 L596.79,488.51 L597.42,488.51 L598.04,488.51 L598.67,488.51 L599.29,488.51 L599.92,488.51 L600.54,488.51 L601.17,488.51 L601.80,488.51 L602.42,488.51 L603.05,488.51 L603.67,488.51 L604.30,488.51 L604.92,488.51 L605.55,488.51 L606.17,488.51 L606.80,488.51" fill="none" stroke="#8c00cc" stroke-width="1.3" stroke-linejoin="round" stroke-linecap="round" />
<circle cx="361.8" cy="333.2" r="2.85" fill="url(#go)"/>
<circle cx="367" cy="370.9" r="2.85" fill="url(#go)"/>
<circle cx="371.4" cy="404.1" r="2.85" fill="url(#go)"/>
<circle cx="375.4" cy="423.3" r="2.85" fill="url(#go)"/>
<circle cx="379.5" cy="438" r="2.85" fill="url(#go)"/>
<circle cx="383.9" cy="448.7" r="2.85" fill="url(#go)"/>
<circle cx="388.2" cy="456.4" r="2.85" fill="url(#go)"/>
<circle cx="392.2" cy="463.8" r="2.85" fill="url(#go)"/>
<circle cx="396.2" cy="459.9" r="2.85" fill="url(#go)"/>
<circle cx="400.6" cy="459.9" r="2.85" fill="url(#go)"/>
<circle cx="405" cy="471.2" r="2.85" fill="url(#go)"/>
<circle cx="409.1" cy="475.2" r="2.85" fill="url(#go)"/>
<circle cx="413.4" cy="481.7" r="2.85" fill="url(#go)"/>
<circle cx="417.4" cy="471.2" r="2.85" fill="url(#go)"/>
<circle cx="421.7" cy="471.2" r="2.85" fill="url(#go)"/>
<circle cx="426.1" cy="481.7" r="2.85" fill="url(#go)"/>
<circle cx="430" cy="478.1" r="2.85" fill="url(#go)"/>
<circle cx="434.2" cy="483" r="2.85" fill="url(#go)"/>
<circle cx="438.5" cy="481.7" r="2.85" fill="url(#go)"/>
<circle cx="443.2" cy="478" r="2.85" fill="url(#go)"/>
<circle cx="447.3" cy="482.4" r="2.85" fill="url(#go)"/>
<circle cx="451.5" cy="484" r="2.85" fill="url(#go)"/>
<circle cx="455.8" cy="482" r="2.85" fill="url(#go)"/>
<circle cx="460.4" cy="481.8" r="2.85" fill="url(#go)"/>
<circle cx="464.8" cy="485" r="2.85" fill="url(#go)"/>
<circle cx="469.2" cy="481.8" r="2.85" fill="url(#go)"/>
<circle cx="473.4" cy="484" r="2.85" fill="url(#go)"/>
<circle cx="477.6" cy="481.8" r="2.85" fill="url(#go)"/>
<circle cx="482.3" cy="485" r="2.85" fill="url(#go)"/>
<circle cx="486.4" cy="481.8" r="2.85" fill="url(#go)"/>
<circle cx="490.8" cy="485" r="2.85" fill="url(#go)"/>
<circle cx="494.7" cy="478" r="2.85" fill="url(#go)"/>
<circle cx="499.1" cy="485" r="2.85" fill="url(#go)"/>
<circle cx="503.4" cy="481.8" r="2.85" fill="url(#go)"/>
<circle cx="507.8" cy="485" r="2.85" fill="url(#go)"/>
<circle cx="512" cy="483" r="2.85" fill="url(#go)"/>
<circle cx="516" cy="484" r="2.85" fill="url(#go)"/>
<circle cx="520.5" cy="485.5" r="2.85" fill="url(#go)"/>
<circle cx="525" cy="482.3" r="2.85" fill="url(#go)"/>
<circle cx="529.5" cy="481.6" r="2.85" fill="url(#go)"/>
<circle cx="533.5" cy="482.3" r="2.85" fill="url(#go)"/>
<circle cx="537.7" cy="478.5" r="2.85" fill="url(#go)"/>
<circle cx="542.3" cy="478.5" r="2.85" fill="url(#go)"/>
<circle cx="546.5" cy="482.3" r="2.85" fill="url(#go)"/>
<circle cx="550.8" cy="474.6" r="2.85" fill="url(#go)"/>
<circle cx="555.1" cy="482.3" r="2.85" fill="url(#go)"/>
<circle cx="559.3" cy="482.3" r="2.85" fill="url(#go)"/>
<circle cx="563.4" cy="485.7" r="2.85" fill="url(#go)"/>
<circle cx="567.7" cy="478.5" r="2.85" fill="url(#go)"/>
<circle cx="572.3" cy="485.7" r="2.85" fill="url(#go)"/>
<circle cx="576.7" cy="478.5" r="2.85" fill="url(#go)"/>
<circle cx="580.8" cy="482.3" r="2.85" fill="url(#go)"/>
<circle cx="584.7" cy="482.3" r="2.85" fill="url(#go)"/>
<circle cx="589.3" cy="490.3" r="2.85" fill="url(#go)"/>
<circle cx="593.6" cy="482.3" r="2.85" fill="url(#go)"/>
<circle cx="597.8" cy="478.5" r="2.85" fill="url(#go)"/>
<circle cx="602.4" cy="478.5" r="2.85" fill="url(#go)"/>
<circle cx="606.2" cy="493.9" r="2.85" fill="url(#go)"/>
<circle cx="357.2" cy="304.6" r="2.85" fill="url(#gp)"/>
<circle cx="361.1" cy="352" r="2.85" fill="url(#gp)"/>
<circle cx="365.1" cy="400.6" r="2.85" fill="url(#gp)"/>
<circle cx="369.3" cy="430.3" r="2.85" fill="url(#gp)"/>
<circle cx="373.4" cy="454.7" r="2.85" fill="url(#gp)"/>
<circle cx="377.4" cy="454.7" r="2.85" fill="url(#gp)"/>
<circle cx="381.7" cy="469.1" r="2.85" fill="url(#gp)"/>
<circle cx="385.4" cy="478.6" r="2.85" fill="url(#gp)"/>
<circle cx="389.2" cy="488.3" r="2.85" fill="url(#gp)"/>
<circle cx="393.6" cy="488.3" r="2.85" fill="url(#gp)"/>
<circle cx="397.4" cy="483.6" r="2.85" fill="url(#gp)"/>
<circle cx="401.3" cy="493.4" r="2.85" fill="url(#gp)"/>
<circle cx="405.4" cy="493.4" r="2.85" fill="url(#gp)"/>
<circle cx="409.4" cy="488.3" r="2.85" fill="url(#gp)"/>
<circle cx="413.4" cy="493.4" r="2.85" fill="url(#gp)"/>
<circle cx="417.4" cy="488.3" r="2.85" fill="url(#gp)"/>
<circle cx="421.3" cy="493.4" r="2.85" fill="url(#gp)"/>
<circle cx="425.4" cy="488.3" r="2.85" fill="url(#gp)"/>
<circle cx="429.5" cy="493.4" r="2.85" fill="url(#gp)"/>
<circle cx="433.8" cy="483.6" r="2.85" fill="url(#gp)"/>
<circle cx="437.8" cy="493.4" r="2.85" fill="url(#gp)"/>
<circle cx="441.8" cy="488.2" r="2.85" fill="url(#gp)"/>
<circle cx="445.8" cy="493" r="2.85" fill="url(#gp)"/>
<circle cx="449.5" cy="483.8" r="2.85" fill="url(#gp)"/>
<circle cx="453.9" cy="483.8" r="2.85" fill="url(#gp)"/>
<circle cx="457.8" cy="488.2" r="2.85" fill="url(#gp)"/>
<circle cx="461.9" cy="493" r="2.85" fill="url(#gp)"/>
<circle cx="466" cy="493" r="2.85" fill="url(#gp)"/>
<circle cx="469.9" cy="483.5" r="2.85" fill="url(#gp)"/>
<circle cx="473.8" cy="488.2" r="2.85" fill="url(#gp)"/>
<circle cx="478.2" cy="489.4" r="2.85" fill="url(#gp)"/>
<circle cx="482.3" cy="489.4" r="2.85" fill="url(#gp)"/>
<circle cx="486.4" cy="489.4" r="2.85" fill="url(#gp)"/>
<circle cx="490.3" cy="489.4" r="2.85" fill="url(#gp)"/>
<circle cx="494.3" cy="489.4" r="2.85" fill="url(#gp)"/>
<circle cx="498.3" cy="489.4" r="2.85" fill="url(#gp)"/>
<circle cx="502.4" cy="494" r="2.85" fill="url(#gp)"/>
<circle cx="506.4" cy="489.4" r="2.85" fill="url(#gp)"/>
<circle cx="510.3" cy="494" r="2.85" fill="url(#gp)"/>
<circle cx="514.4" cy="484.7" r="2.85" fill="url(#gp)"/>
<circle cx="518.5" cy="498.9" r="2.85" fill="url(#gp)"/>
<circle cx="522.4" cy="494.8" r="2.85" fill="url(#gp)"/>
<circle cx="526.6" cy="485.1" r="2.85" fill="url(#gp)"/>
<circle cx="530.5" cy="489.7" r="2.85" fill="url(#gp)"/>
<circle cx="534.6" cy="489.7" r="2.85" fill="url(#gp)"/>
<circle cx="538.8" cy="494.6" r="2.85" fill="url(#gp)"/>
<circle cx="542.8" cy="489.7" r="2.85" fill="url(#gp)"/>
<circle cx="546.9" cy="484.6" r="2.85" fill="url(#gp)"/>
<circle cx="550.8" cy="484.6" r="2.85" fill="url(#gp)"/>
<circle cx="555.1" cy="494.6" r="2.85" fill="url(#gp)"/>
<circle cx="559.3" cy="494.6" r="2.85" fill="url(#gp)"/>
<circle cx="563.1" cy="489.7" r="2.85" fill="url(#gp)"/>
<circle cx="567.4" cy="484.6" r="2.85" fill="url(#gp)"/>
<circle cx="571.6" cy="489.7" r="2.85" fill="url(#gp)"/>
<circle cx="575.4" cy="489.7" r="2.85" fill="url(#gp)"/>
<circle cx="579.7" cy="494.6" r="2.85" fill="url(#gp)"/>
<circle cx="583.4" cy="489.7" r="2.85" fill="url(#gp)"/>
<circle cx="587.7" cy="484.6" r="2.85" fill="url(#gp)"/>
<circle cx="591.6" cy="489.7" r="2.85" fill="url(#gp)"/>
<circle cx="595.8" cy="499.6" r="2.85" fill="url(#gp)"/>
<circle cx="599.8" cy="495" r="2.85" fill="url(#gp)"/>
<circle cx="603.9" cy="479.6" r="2.85" fill="url(#gp)"/>
</g>
<rect x="349.5" y="295.4" width="257.5" height="207.40000000000003" fill="none" stroke="#2a2a2a" stroke-width="1.4"/>
<line x1="357.2" y1="502.8" x2="357.2" y2="499.0" stroke="#2a2a2a" stroke-width="1.3" />
<line x1="357.2" y1="295.4" x2="357.2" y2="299.2" stroke="#2a2a2a" stroke-width="1.3" />
<line x1="378.0" y1="502.8" x2="378.0" y2="500.5" stroke="#2a2a2a" stroke-width="1.3" />
<line x1="378.0" y1="295.4" x2="378.0" y2="297.7" stroke="#2a2a2a" stroke-width="1.3" />
<line x1="398.8" y1="502.8" x2="398.8" y2="499.0" stroke="#2a2a2a" stroke-width="1.3" />
<line x1="398.8" y1="295.4" x2="398.8" y2="299.2" stroke="#2a2a2a" stroke-width="1.3" />
<line x1="419.6" y1="502.8" x2="419.6" y2="500.5" stroke="#2a2a2a" stroke-width="1.3" />
<line x1="419.6" y1="295.4" x2="419.6" y2="297.7" stroke="#2a2a2a" stroke-width="1.3" />
<line x1="440.4" y1="502.8" x2="440.4" y2="499.0" stroke="#2a2a2a" stroke-width="1.3" />
<line x1="440.4" y1="295.4" x2="440.4" y2="299.2" stroke="#2a2a2a" stroke-width="1.3" />
<line x1="461.2" y1="502.8" x2="461.2" y2="500.5" stroke="#2a2a2a" stroke-width="1.3" />
<line x1="461.2" y1="295.4" x2="461.2" y2="297.7" stroke="#2a2a2a" stroke-width="1.3" />
<line x1="482.0" y1="502.8" x2="482.0" y2="499.0" stroke="#2a2a2a" stroke-width="1.3" />
<line x1="482.0" y1="295.4" x2="482.0" y2="299.2" stroke="#2a2a2a" stroke-width="1.3" />
<line x1="502.79999999999995" y1="502.8" x2="502.79999999999995" y2="500.5" stroke="#2a2a2a" stroke-width="1.3" />
<line x1="502.79999999999995" y1="295.4" x2="502.79999999999995" y2="297.7" stroke="#2a2a2a" stroke-width="1.3" />
<line x1="523.6" y1="502.8" x2="523.6" y2="499.0" stroke="#2a2a2a" stroke-width="1.3" />
<line x1="523.6" y1="295.4" x2="523.6" y2="299.2" stroke="#2a2a2a" stroke-width="1.3" />
<line x1="544.4" y1="502.8" x2="544.4" y2="500.5" stroke="#2a2a2a" stroke-width="1.3" />
<line x1="544.4" y1="295.4" x2="544.4" y2="297.7" stroke="#2a2a2a" stroke-width="1.3" />
<line x1="565.2" y1="502.8" x2="565.2" y2="499.0" stroke="#2a2a2a" stroke-width="1.3" />
<line x1="565.2" y1="295.4" x2="565.2" y2="299.2" stroke="#2a2a2a" stroke-width="1.3" />
<line x1="586.0" y1="502.8" x2="586.0" y2="500.5" stroke="#2a2a2a" stroke-width="1.3" />
<line x1="586.0" y1="295.4" x2="586.0" y2="297.7" stroke="#2a2a2a" stroke-width="1.3" />
<line x1="606.8" y1="502.8" x2="606.8" y2="499.0" stroke="#2a2a2a" stroke-width="1.3" />
<line x1="606.8" y1="295.4" x2="606.8" y2="299.2" stroke="#2a2a2a" stroke-width="1.3" />
<text x="357.2" y="517.6" font-family="Liberation Sans" font-size="13" font-weight="normal" text-anchor="middle" fill="#000" stroke="#000" stroke-width="0.22">0</text>
<text x="398.8" y="517.6" font-family="Liberation Sans" font-size="13" font-weight="normal" text-anchor="middle" fill="#000" stroke="#000" stroke-width="0.22">5</text>
<text x="440.4" y="517.6" font-family="Liberation Sans" font-size="13" font-weight="normal" text-anchor="middle" fill="#000" stroke="#000" stroke-width="0.22">10</text>
<text x="482.0" y="517.6" font-family="Liberation Sans" font-size="13" font-weight="normal" text-anchor="middle" fill="#000" stroke="#000" stroke-width="0.22">15</text>
<text x="523.6" y="517.6" font-family="Liberation Sans" font-size="13" font-weight="normal" text-anchor="middle" fill="#000" stroke="#000" stroke-width="0.22">20</text>
<text x="565.2" y="517.6" font-family="Liberation Sans" font-size="13" font-weight="normal" text-anchor="middle" fill="#000" stroke="#000" stroke-width="0.22">25</text>
<text x="606.8" y="517.6" font-family="Liberation Sans" font-size="13" font-weight="normal" text-anchor="middle" fill="#000" stroke="#000" stroke-width="0.22">30</text>
<line x1="349.5" y1="493.6" x2="353.3" y2="493.6" stroke="#2a2a2a" stroke-width="1.3" />
<line x1="607.0" y1="493.6" x2="603.2" y2="493.6" stroke="#2a2a2a" stroke-width="1.3" />
<line x1="349.5" y1="474.73" x2="351.8" y2="474.73" stroke="#2a2a2a" stroke-width="1.3" />
<line x1="607.0" y1="474.73" x2="604.7" y2="474.73" stroke="#2a2a2a" stroke-width="1.3" />
<line x1="349.5" y1="455.86" x2="353.3" y2="455.86" stroke="#2a2a2a" stroke-width="1.3" />
<line x1="607.0" y1="455.86" x2="603.2" y2="455.86" stroke="#2a2a2a" stroke-width="1.3" />
<line x1="349.5" y1="436.99" x2="351.8" y2="436.99" stroke="#2a2a2a" stroke-width="1.3" />
<line x1="607.0" y1="436.99" x2="604.7" y2="436.99" stroke="#2a2a2a" stroke-width="1.3" />
<line x1="349.5" y1="418.12" x2="353.3" y2="418.12" stroke="#2a2a2a" stroke-width="1.3" />
<line x1="607.0" y1="418.12" x2="603.2" y2="418.12" stroke="#2a2a2a" stroke-width="1.3" />
<line x1="349.5" y1="399.25" x2="351.8" y2="399.25" stroke="#2a2a2a" stroke-width="1.3" />
<line x1="607.0" y1="399.25" x2="604.7" y2="399.25" stroke="#2a2a2a" stroke-width="1.3" />
<line x1="349.5" y1="380.38" x2="353.3" y2="380.38" stroke="#2a2a2a" stroke-width="1.3" />
<line x1="607.0" y1="380.38" x2="603.2" y2="380.38" stroke="#2a2a2a" stroke-width="1.3" />
<line x1="349.5" y1="361.51" x2="351.8" y2="361.51" stroke="#2a2a2a" stroke-width="1.3" />
<line x1="607.0" y1="361.51" x2="604.7" y2="361.51" stroke="#2a2a2a" stroke-width="1.3" />
<line x1="349.5" y1="342.64" x2="353.3" y2="342.64" stroke="#2a2a2a" stroke-width="1.3" />
<line x1="607.0" y1="342.64" x2="603.2" y2="342.64" stroke="#2a2a2a" stroke-width="1.3" />
<line x1="349.5" y1="323.77000000000004" x2="351.8" y2="323.77000000000004" stroke="#2a2a2a" stroke-width="1.3" />
<line x1="607.0" y1="323.77000000000004" x2="604.7" y2="323.77000000000004" stroke="#2a2a2a" stroke-width="1.3" />
<line x1="349.5" y1="304.90000000000003" x2="353.3" y2="304.90000000000003" stroke="#2a2a2a" stroke-width="1.3" />
<line x1="607.0" y1="304.90000000000003" x2="603.2" y2="304.90000000000003" stroke="#2a2a2a" stroke-width="1.3" />
<text x="344.3" y="498.20000000000005" font-family="Liberation Sans" font-size="13" font-weight="normal" text-anchor="end" fill="#000" stroke="#000" stroke-width="0.22">0.0</text>
<text x="344.3" y="460.46000000000004" font-family="Liberation Sans" font-size="13" font-weight="normal" text-anchor="end" fill="#000" stroke="#000" stroke-width="0.22">0.2</text>
<text x="344.3" y="422.72" font-family="Liberation Sans" font-size="13" font-weight="normal" text-anchor="end" fill="#000" stroke="#000" stroke-width="0.22">0.4</text>
<text x="344.3" y="384.98" font-family="Liberation Sans" font-size="13" font-weight="normal" text-anchor="end" fill="#000" stroke="#000" stroke-width="0.22">0.6</text>
<text x="344.3" y="347.24" font-family="Liberation Sans" font-size="13" font-weight="normal" text-anchor="end" fill="#000" stroke="#000" stroke-width="0.22">0.8</text>
<text x="344.3" y="309.50000000000006" font-family="Liberation Sans" font-size="13" font-weight="normal" text-anchor="end" fill="#000" stroke="#000" stroke-width="0.22">1.0</text>
<text x="478.2" y="540.8" font-family="Liberation Sans" font-size="15" font-weight="normal" text-anchor="middle" fill="#000" stroke="#000" stroke-width="0.22">Time (s)</text>
<text x="321.3" y="398.7" font-family="Liberation Sans" font-size="14.85" font-weight="normal" text-anchor="middle" fill="#000" transform="rotate(-90 321.3 398.7)" stroke="#000" stroke-width="0.22">Normalized SPV (a.u.)</text>
<text x="296.6" y="291.5" font-family="Liberation Serif" font-size="23.8" font-weight="bold" text-anchor="start" fill="#000" stroke="#000" stroke-width="0.55">(d)</text>
<circle cx="495.7" cy="317.3" r="2.85" fill="url(#gp)"/>
<circle cx="495.7" cy="332" r="2.85" fill="url(#go)"/>
<text x="513.2" y="321.5" font-family="Liberation Sans" font-size="12.3" font-weight="normal" text-anchor="start" fill="#000" stroke="#000" stroke-width="0.22">with TBAI</text>
<text x="513.2" y="336.2" font-family="Liberation Sans" font-size="12.3" font-weight="normal" text-anchor="start" fill="#000" stroke="#000" stroke-width="0.22">without TBAI</text>
</svg>
</body></html>
